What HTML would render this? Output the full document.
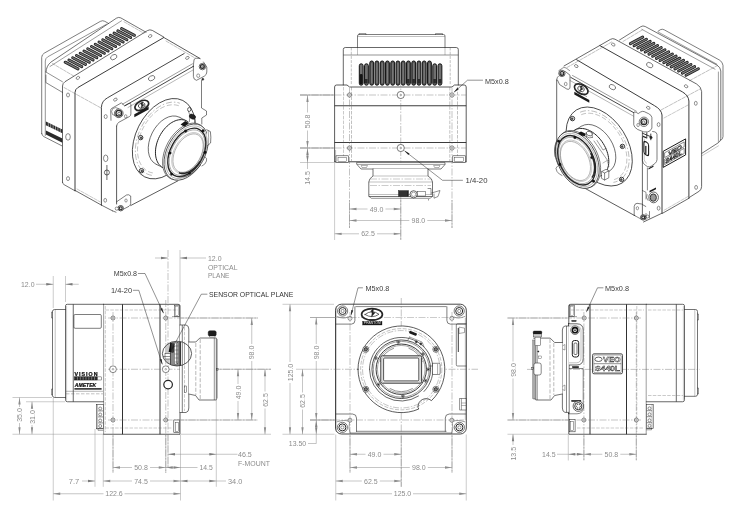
<!DOCTYPE html>
<html><head><meta charset="utf-8"><title>Camera dimensional drawing</title>
<style>html,body{margin:0;padding:0;background:#fff}svg{display:block;filter:grayscale(1)}
text{font-family:"Liberation Sans",sans-serif}</style></head>
<body><svg width="740" height="511" viewBox="0 0 740 511">
<rect width="740" height="511" fill="#fff"/>
<g id="topview">
<path d="M357.5,47.5 V36 Q357.5,34.5 359,34.5 H443.5 Q445,34.5 445,36 V47.5" fill="none" stroke="#262626" stroke-width="0.6" stroke-linejoin="round" stroke-linecap="round"/>
<line x1="357.5" y1="36.5" x2="445" y2="36.5" stroke="#4a4a4a" stroke-width="0.35"/>
<path d="M359,34.5 V33.6 H366 V34.5 M435.5,34.5 V33.6 H442.5 V34.5" fill="none" stroke="#262626" stroke-width="0.5" stroke-linejoin="round" stroke-linecap="round"/>
<path d="M343.3,85 V49.5 Q343.3,47.5 345.3,47.5 H456.3 Q458.3,47.5 458.3,49.5 V85" fill="none" stroke="#262626" stroke-width="0.7" stroke-linejoin="round" stroke-linecap="round"/>
<line x1="343.3" y1="55" x2="458.3" y2="55" stroke="#262626" stroke-width="0.5"/>
<line x1="351.3" y1="47.5" x2="351.3" y2="85" stroke="#4a4a4a" stroke-width="0.35" stroke-dasharray="3 1.2"/>
<line x1="450.2" y1="47.5" x2="450.2" y2="85" stroke="#4a4a4a" stroke-width="0.35" stroke-dasharray="3 1.2"/>
<line x1="357.5" y1="47.5" x2="357.5" y2="55" stroke="#4a4a4a" stroke-width="0.35"/>
<line x1="445" y1="47.5" x2="445" y2="55" stroke="#4a4a4a" stroke-width="0.35"/>
<rect x="359.30" y="63.8" width="3.8" height="21.4" rx="1.9" fill="#707070" stroke="#101010" stroke-width="1.0"/>
<rect x="364.55" y="63.8" width="3.8" height="21.4" rx="1.9" fill="#707070" stroke="#101010" stroke-width="1.0"/>
<rect x="369.80" y="61.0" width="3.8" height="24.2" rx="1.9" fill="#585858" stroke="#101010" stroke-width="1.0"/>
<rect x="371.10" y="63.0" width="1.2" height="20.2" rx="0.6" fill="#7c7c7c"/>
<rect x="375.05" y="61.0" width="3.8" height="24.2" rx="1.9" fill="#585858" stroke="#101010" stroke-width="1.0"/>
<rect x="376.35" y="63.0" width="1.2" height="20.2" rx="0.6" fill="#7c7c7c"/>
<rect x="380.30" y="61.0" width="3.8" height="24.2" rx="1.9" fill="#585858" stroke="#101010" stroke-width="1.0"/>
<rect x="381.60" y="63.0" width="1.2" height="20.2" rx="0.6" fill="#7c7c7c"/>
<rect x="385.55" y="61.0" width="3.8" height="24.2" rx="1.9" fill="#585858" stroke="#101010" stroke-width="1.0"/>
<rect x="386.85" y="63.0" width="1.2" height="20.2" rx="0.6" fill="#7c7c7c"/>
<rect x="390.80" y="61.0" width="3.8" height="24.2" rx="1.9" fill="#585858" stroke="#101010" stroke-width="1.0"/>
<rect x="392.10" y="63.0" width="1.2" height="20.2" rx="0.6" fill="#7c7c7c"/>
<rect x="396.05" y="61.0" width="3.8" height="24.2" rx="1.9" fill="#585858" stroke="#101010" stroke-width="1.0"/>
<rect x="397.35" y="63.0" width="1.2" height="20.2" rx="0.6" fill="#7c7c7c"/>
<rect x="401.30" y="61.0" width="3.8" height="24.2" rx="1.9" fill="#585858" stroke="#101010" stroke-width="1.0"/>
<rect x="402.60" y="63.0" width="1.2" height="20.2" rx="0.6" fill="#7c7c7c"/>
<rect x="406.55" y="61.0" width="3.8" height="24.2" rx="1.9" fill="#585858" stroke="#101010" stroke-width="1.0"/>
<rect x="407.85" y="63.0" width="1.2" height="20.2" rx="0.6" fill="#7c7c7c"/>
<rect x="411.80" y="61.0" width="3.8" height="24.2" rx="1.9" fill="#585858" stroke="#101010" stroke-width="1.0"/>
<rect x="413.10" y="63.0" width="1.2" height="20.2" rx="0.6" fill="#7c7c7c"/>
<rect x="417.05" y="61.0" width="3.8" height="24.2" rx="1.9" fill="#585858" stroke="#101010" stroke-width="1.0"/>
<rect x="418.35" y="63.0" width="1.2" height="20.2" rx="0.6" fill="#7c7c7c"/>
<rect x="422.30" y="61.0" width="3.8" height="24.2" rx="1.9" fill="#585858" stroke="#101010" stroke-width="1.0"/>
<rect x="423.60" y="63.0" width="1.2" height="20.2" rx="0.6" fill="#7c7c7c"/>
<rect x="427.55" y="61.0" width="3.8" height="24.2" rx="1.9" fill="#585858" stroke="#101010" stroke-width="1.0"/>
<rect x="428.85" y="63.0" width="1.2" height="20.2" rx="0.6" fill="#7c7c7c"/>
<rect x="432.80" y="63.8" width="3.8" height="21.4" rx="1.9" fill="#707070" stroke="#101010" stroke-width="1.0"/>
<rect x="438.05" y="63.8" width="3.8" height="21.4" rx="1.9" fill="#707070" stroke="#101010" stroke-width="1.0"/>
<rect x="359.7" y="74" width="3" height="10.5" rx="1.4" fill="#151515"/>
<rect x="365" y="79" width="2.6" height="4.5" fill="#2a2a2a"/>
<rect x="407" y="79" width="2.6" height="4.5" fill="#2a2a2a"/>
<rect x="412.3" y="79" width="2.6" height="4.5" fill="#2a2a2a"/>
<rect x="417.5" y="79" width="2.6" height="4.5" fill="#2a2a2a"/>
<rect x="433.3" y="79" width="2.6" height="4.5" fill="#2a2a2a"/>
<rect x="438.6" y="79" width="2.6" height="4.5" fill="#2a2a2a"/>
<path d="M334.6,161.8 V87 Q334.6,85 336.6,85 H347 L349.5,87 H452 L454.5,85 H464.2 Q466.2,85 466.2,87 V161.8" fill="none" stroke="#262626" stroke-width="0.75" stroke-linejoin="round" stroke-linecap="round"/>
<line x1="334.6" y1="105.75" x2="466.2" y2="105.75" stroke="#262626" stroke-width="0.9"/>
<line x1="334.6" y1="142.5" x2="466.2" y2="142.5" stroke="#262626" stroke-width="0.9"/>
<line x1="334.6" y1="161.8" x2="466.2" y2="161.8" stroke="#262626" stroke-width="0.9"/>
<line x1="351.5" y1="87" x2="351.5" y2="161" stroke="#4a4a4a" stroke-width="0.35" stroke-dasharray="3.5 1.3"/>
<line x1="449.8" y1="87" x2="449.8" y2="161" stroke="#4a4a4a" stroke-width="0.35" stroke-dasharray="3.5 1.3"/>
<line x1="457.5" y1="87" x2="457.5" y2="161" stroke="#4a4a4a" stroke-width="0.35" stroke-dasharray="3.5 1.3"/>
<line x1="343.5" y1="87" x2="343.5" y2="161" stroke="#4a4a4a" stroke-width="0.3" stroke-dasharray="3.5 1.3"/>
<line x1="300" y1="95" x2="466" y2="95" stroke="#6a6a6a" stroke-width="0.4" stroke-dasharray="7 1.5 1.5 1.5"/>
<line x1="300" y1="148" x2="466" y2="148" stroke="#6a6a6a" stroke-width="0.4" stroke-dasharray="7 1.5 1.5 1.5"/>
<line x1="349.5" y1="88" x2="349.5" y2="228" stroke="#6a6a6a" stroke-width="0.4" stroke-dasharray="7 1.5 1.5 1.5"/>
<line x1="452" y1="88" x2="452" y2="228" stroke="#6a6a6a" stroke-width="0.4" stroke-dasharray="7 1.5 1.5 1.5"/>
<line x1="400.75" y1="80" x2="400.75" y2="240" stroke="#6a6a6a" stroke-width="0.4" stroke-dasharray="7 1.5 1.5 1.5"/>
<circle cx="349.5" cy="95" r="2.1" fill="#fff" stroke="#262626" stroke-width="0.5"/>
<circle cx="349.5" cy="95" r="0.9" fill="none" stroke="#262626" stroke-width="0.35"/>
<circle cx="452" cy="95" r="2.1" fill="#fff" stroke="#262626" stroke-width="0.5"/>
<circle cx="452" cy="95" r="0.9" fill="none" stroke="#262626" stroke-width="0.35"/>
<circle cx="400.75" cy="95" r="3.6" fill="#fff" stroke="#262626" stroke-width="0.6"/>
<circle cx="400.75" cy="95" r="0.8" fill="none" stroke="#262626" stroke-width="0.4"/>
<circle cx="349.5" cy="148" r="2.1" fill="#fff" stroke="#262626" stroke-width="0.5"/>
<circle cx="349.5" cy="148" r="0.9" fill="none" stroke="#262626" stroke-width="0.35"/>
<circle cx="452" cy="148" r="2.1" fill="#fff" stroke="#262626" stroke-width="0.5"/>
<circle cx="452" cy="148" r="0.9" fill="none" stroke="#262626" stroke-width="0.35"/>
<circle cx="400.75" cy="148" r="3.6" fill="#fff" stroke="#262626" stroke-width="0.6"/>
<circle cx="400.75" cy="148" r="0.8" fill="none" stroke="#262626" stroke-width="0.4"/>
<rect x="336" y="155.8" width="12.6" height="6.6" rx="0" fill="#fff" stroke="#262626" stroke-width="0.55"/>
<rect x="338" y="157.3" width="8.6" height="4.2" rx="0" fill="none" stroke="#262626" stroke-width="0.4"/>
<rect x="452.8" y="155.8" width="12.6" height="6.6" rx="0" fill="#fff" stroke="#262626" stroke-width="0.55"/>
<rect x="454.8" y="157.3" width="8.6" height="4.2" rx="0" fill="none" stroke="#262626" stroke-width="0.4"/>
<line x1="335.6" y1="150" x2="335.6" y2="161" stroke="#4a4a4a" stroke-width="0.35"/>
<path d="M357,162.6 H445 V164.5 L441,169 H361 L357,164.5 Z" fill="#fff" stroke="#262626" stroke-width="0.6" stroke-linejoin="round" stroke-linecap="round"/>
<line x1="357" y1="164.5" x2="445" y2="164.5" stroke="#262626" stroke-width="0.4"/>
<path d="M361.5,165.5 h6 l-1,2 h-4 z M434,165.5 h6 l-1,2 h-4 z" fill="none" stroke="#262626" stroke-width="0.35" stroke-linejoin="round" stroke-linecap="round"/>
<path d="M373,169 V176 Q369,178.5 368.8,182 V196.5 H432.5 V182 Q432.3,178.5 428,176 V169" fill="#fff" stroke="#262626" stroke-width="0.65" stroke-linejoin="round" stroke-linecap="round"/>
<line x1="369" y1="196.5" x2="371.5" y2="198.3" stroke="#262626" stroke-width="0.5"/>
<line x1="371.5" y1="198.3" x2="430" y2="198.3" stroke="#262626" stroke-width="0.5"/>
<line x1="430" y1="198.3" x2="432.5" y2="196.5" stroke="#262626" stroke-width="0.5"/>
<line x1="373" y1="176" x2="428" y2="176" stroke="#4a4a4a" stroke-width="0.35"/>
<line x1="368.8" y1="182" x2="432.5" y2="182" stroke="#4a4a4a" stroke-width="0.35"/>
<line x1="370" y1="179" x2="431" y2="179" stroke="#6a6a6a" stroke-width="0.35" stroke-dasharray="7 1.5 1.5 1.5"/>
<line x1="370" y1="185.5" x2="431" y2="185.5" stroke="#6a6a6a" stroke-width="0.35" stroke-dasharray="7 1.5 1.5 1.5"/>
<line x1="369" y1="194.5" x2="432.5" y2="194.5" stroke="#4a4a4a" stroke-width="0.35"/>
<rect x="398.5" y="190.6" width="10" height="5.8" rx="0" fill="#222" stroke="#111" stroke-width="0.4"/>
<line x1="400" y1="190.6" x2="400" y2="196.4" stroke="#777" stroke-width="0.35"/>
<line x1="402" y1="190.6" x2="402" y2="196.4" stroke="#777" stroke-width="0.35"/>
<line x1="404" y1="190.6" x2="404" y2="196.4" stroke="#777" stroke-width="0.35"/>
<line x1="406" y1="190.6" x2="406" y2="196.4" stroke="#777" stroke-width="0.35"/>
<circle cx="413.6" cy="194.3" r="3.6" fill="#fff" stroke="#262626" stroke-width="0.7"/>
<circle cx="413.6" cy="194.3" r="2.2" fill="none" stroke="#262626" stroke-width="0.4"/>
<rect x="417.5" y="191.5" width="8" height="4.5" rx="0" fill="#fff" stroke="#262626" stroke-width="0.45"/>
<path d="M428,188.5 h3 v6 M431.5,193 L440,190.5 L438,196.5 L434,198.2 V194" fill="none" stroke="#262626" stroke-width="0.5" stroke-linejoin="round" stroke-linecap="round"/>
<line x1="428.5" y1="199" x2="428.5" y2="200.5" stroke="#262626" stroke-width="0.5"/>
<line x1="300" y1="95" x2="334" y2="95" stroke="#8c8c8c" stroke-width="0.45"/>
<line x1="300" y1="148" x2="334" y2="148" stroke="#8c8c8c" stroke-width="0.45"/>
<line x1="300" y1="162.5" x2="336" y2="162.5" stroke="#8c8c8c" stroke-width="0.45"/>
<line x1="307.5" y1="95" x2="307.5" y2="112.5" stroke="#8c8c8c" stroke-width="0.5"/>
<line x1="307.5" y1="130.5" x2="307.5" y2="148" stroke="#8c8c8c" stroke-width="0.5"/>
<polygon points="307.5,95 306.35,102 308.65,102" fill="#8c8c8c"/>
<polygon points="307.5,148 306.35,141 308.65,141" fill="#8c8c8c"/>
<text transform="translate(307.5 121.5) rotate(-90) scale(0.9 1)" fill="#8c8c8c" font-size="7.8" text-anchor="middle" dominant-baseline="central">50.8</text>
<polygon points="307.5,148 306.35,155 308.65,155" fill="#7a7a7a"/>
<polygon points="307.5,162.5 306.35,155.5 308.65,155.5" fill="#7a7a7a"/>
<line x1="307.5" y1="148" x2="307.5" y2="169" stroke="#8c8c8c" stroke-width="0.5"/>
<text transform="translate(307.5 178) rotate(-90) scale(0.9 1)" fill="#8c8c8c" font-size="7.8" text-anchor="middle" dominant-baseline="central">14.5</text>
<line x1="349.5" y1="209" x2="367.5" y2="209" stroke="#8c8c8c" stroke-width="0.5"/>
<line x1="385.5" y1="209" x2="400.75" y2="209" stroke="#8c8c8c" stroke-width="0.5"/>
<polygon points="349.5,209 356.5,207.85 356.5,210.15" fill="#8c8c8c"/>
<polygon points="400.75,209 393.75,207.85 393.75,210.15" fill="#8c8c8c"/>
<text transform="translate(376.5 209) scale(0.9 1)" fill="#8c8c8c" font-size="7.8" text-anchor="middle" dominant-baseline="central">49.0</text>
<line x1="349.5" y1="220.5" x2="409.3" y2="220.5" stroke="#8c8c8c" stroke-width="0.5"/>
<line x1="427.3" y1="220.5" x2="452" y2="220.5" stroke="#8c8c8c" stroke-width="0.5"/>
<polygon points="349.5,220.5 356.5,219.35 356.5,221.65" fill="#8c8c8c"/>
<polygon points="452,220.5 445,219.35 445,221.65" fill="#8c8c8c"/>
<text transform="translate(418.3 220.5) scale(0.9 1)" fill="#8c8c8c" font-size="7.8" text-anchor="middle" dominant-baseline="central">98.0</text>
<line x1="334.6" y1="233.8" x2="359" y2="233.8" stroke="#8c8c8c" stroke-width="0.5"/>
<line x1="377" y1="233.8" x2="400.75" y2="233.8" stroke="#8c8c8c" stroke-width="0.5"/>
<polygon points="334.6,233.8 341.6,232.65 341.6,234.95000000000002" fill="#8c8c8c"/>
<polygon points="400.75,233.8 393.75,232.65 393.75,234.95000000000002" fill="#8c8c8c"/>
<text transform="translate(368 233.8) scale(0.9 1)" fill="#8c8c8c" font-size="7.8" text-anchor="middle" dominant-baseline="central">62.5</text>
<line x1="334.6" y1="163" x2="334.6" y2="240" stroke="#8c8c8c" stroke-width="0.45"/>
<text transform="translate(485 81.8)" fill="#3c3c3c" font-size="7.8" text-anchor="start" dominant-baseline="central" textLength="23.8" lengthAdjust="spacingAndGlyphs">M5x0.8</text>
<path d="M482.6,80.2 H467.5 L454.5,91.8" fill="none" stroke="#262626" stroke-width="0.5" stroke-linejoin="round" stroke-linecap="round"/>
<polygon points="453.60,92.60 457.41,87.86 458.74,89.35" fill="#262626"/>
<text transform="translate(465.5 180.8)" fill="#3c3c3c" font-size="7.8" text-anchor="start" dominant-baseline="central" textLength="22" lengthAdjust="spacingAndGlyphs">1/4-20</text>
<path d="M462.5,180.3 H442.5 L405,151.2" fill="none" stroke="#262626" stroke-width="0.5" stroke-linejoin="round" stroke-linecap="round"/>
<polygon points="404.20,150.60 409.55,153.49 408.33,155.07" fill="#262626"/>
</g>
<g id="sideview">
<path d="M65.5,309.5 H54.5 Q52.5,309.5 52.5,311.5 V395.5 Q52.5,397.5 54.5,397.5 H65.5" fill="none" stroke="#262626" stroke-width="0.65" stroke-linejoin="round" stroke-linecap="round"/>
<line x1="55.2" y1="309.5" x2="55.2" y2="397.5" stroke="#4a4a4a" stroke-width="0.35"/>
<path d="M52.5,312 h-1 v6 h1 M52.5,389 h-1 v6 h1" fill="none" stroke="#262626" stroke-width="0.45" stroke-linejoin="round" stroke-linecap="round"/>
<path d="M103.5,304.3 H67.5 Q65.5,304.3 65.5,305.75 V399.75 Q65.5,401.75 67.5,401.75 H103.5" fill="none" stroke="#262626" stroke-width="0.7" stroke-linejoin="round" stroke-linecap="round"/>
<line x1="73.25" y1="304.3" x2="73.25" y2="401.75" stroke="#262626" stroke-width="0.7"/>
<line x1="66.6" y1="306" x2="66.6" y2="400" stroke="#4a4a4a" stroke-width="0.3"/>
<rect x="73.9" y="314.5" width="27.4" height="13.8" rx="1.2" fill="none" stroke="#262626" stroke-width="0.6"/>
<text x="74.4" y="374" fill="#111" stroke="#111" stroke-width="0.25" font-size="5.3" font-weight="bold" dominant-baseline="central" textLength="23.2" lengthAdjust="spacing">VISION</text>
<rect x="74.6" y="376.9" width="26.8" height="3.1" rx="0" fill="#fff" stroke="#111" stroke-width="0.4"/>
<rect x="74.6" y="376.9" width="22.8" height="3.1" rx="0" fill="#2a2a2a" stroke="#111" stroke-width="0.3"/>
<line x1="77.44999999999999" y1="377.1" x2="77.44999999999999" y2="379.8" stroke="#ddd" stroke-width="0.45"/>
<line x1="80.3" y1="377.1" x2="80.3" y2="379.8" stroke="#ddd" stroke-width="0.45"/>
<line x1="83.14999999999999" y1="377.1" x2="83.14999999999999" y2="379.8" stroke="#ddd" stroke-width="0.45"/>
<line x1="86.0" y1="377.1" x2="86.0" y2="379.8" stroke="#ddd" stroke-width="0.45"/>
<line x1="88.85" y1="377.1" x2="88.85" y2="379.8" stroke="#ddd" stroke-width="0.45"/>
<line x1="91.69999999999999" y1="377.1" x2="91.69999999999999" y2="379.8" stroke="#ddd" stroke-width="0.45"/>
<line x1="94.55" y1="377.1" x2="94.55" y2="379.8" stroke="#ddd" stroke-width="0.45"/>
<text x="74.8" y="385.6" fill="#111" stroke="#111" stroke-width="0.2" font-size="4.8" font-style="italic" font-weight="bold" dominant-baseline="central" textLength="21.5" lengthAdjust="spacingAndGlyphs">AMETEK</text>
<line x1="74.4" y1="388.9" x2="101.6" y2="388.9" stroke="#111" stroke-width="1.4"/>
<line x1="66" y1="391.3" x2="103" y2="391.3" stroke="#4a4a4a" stroke-width="0.4"/>
<line x1="66" y1="393.8" x2="103" y2="393.8" stroke="#4a4a4a" stroke-width="0.35" stroke-dasharray="3.5 1.5"/>
<path d="M103.5,434.25 H180 V305.75 Q180,304.3 178,304.3 H103.5" fill="none" stroke="#262626" stroke-width="0.75" stroke-linejoin="round" stroke-linecap="round"/>
<line x1="103.6" y1="304.3" x2="103.6" y2="434.25" stroke="#262626" stroke-width="0.45"/>
<line x1="122.5" y1="304.3" x2="122.5" y2="434.25" stroke="#262626" stroke-width="0.95"/>
<line x1="160" y1="304.3" x2="160" y2="434.25" stroke="#262626" stroke-width="0.95"/>
<line x1="105.3" y1="306" x2="105.3" y2="432" stroke="#4a4a4a" stroke-width="0.3" stroke-dasharray="3.5 1.3"/>
<line x1="105.5" y1="310" x2="178" y2="310" stroke="#4a4a4a" stroke-width="0.3" stroke-dasharray="3.5 1.3"/>
<line x1="105.5" y1="428" x2="172" y2="428" stroke="#4a4a4a" stroke-width="0.3" stroke-dasharray="3.5 1.3"/>
<rect x="96.3" y="404.5" width="7.2" height="24.3" rx="0" fill="#fff" stroke="#262626" stroke-width="0.55"/>
<circle cx="100.2" cy="408.5" r="1.5" fill="none" stroke="#262626" stroke-width="0.5"/>
<line x1="98" y1="410.9" x2="103" y2="410.9" stroke="#262626" stroke-width="0.5"/>
<circle cx="100.2" cy="414.5" r="1.5" fill="none" stroke="#262626" stroke-width="0.5"/>
<line x1="98" y1="416.9" x2="103" y2="416.9" stroke="#262626" stroke-width="0.5"/>
<circle cx="100.2" cy="420.5" r="1.5" fill="none" stroke="#262626" stroke-width="0.5"/>
<line x1="98" y1="422.9" x2="103" y2="422.9" stroke="#262626" stroke-width="0.5"/>
<circle cx="100.2" cy="426" r="1.5" fill="none" stroke="#262626" stroke-width="0.5"/>
<line x1="98" y1="428.4" x2="103" y2="428.4" stroke="#262626" stroke-width="0.5"/>
<line x1="97.5" y1="404.5" x2="97.5" y2="428.8" stroke="#4a4a4a" stroke-width="0.35"/>
<path d="M98,428.8 v1.5 h5" fill="none" stroke="#262626" stroke-width="0.45" stroke-linejoin="round" stroke-linecap="round"/>
<line x1="108" y1="369.25" x2="271" y2="369.25" stroke="#6a6a6a" stroke-width="0.4" stroke-dasharray="7 1.5 1.5 1.5"/>
<line x1="108" y1="318" x2="258" y2="318" stroke="#6a6a6a" stroke-width="0.4" stroke-dasharray="7 1.5 1.5 1.5"/>
<line x1="108" y1="420" x2="257.5" y2="420" stroke="#6a6a6a" stroke-width="0.4" stroke-dasharray="7 1.5 1.5 1.5"/>
<line x1="113" y1="312" x2="113" y2="473" stroke="#6a6a6a" stroke-width="0.4" stroke-dasharray="7 1.5 1.5 1.5"/>
<line x1="165.75" y1="300" x2="165.75" y2="473" stroke="#6a6a6a" stroke-width="0.4" stroke-dasharray="7 1.5 1.5 1.5"/>
<line x1="168" y1="250" x2="168" y2="468" stroke="#6a6a6a" stroke-width="0.4" stroke-dasharray="7 1.5 1.5 1.5"/>
<line x1="181" y1="318" x2="258" y2="318" stroke="#8c8c8c" stroke-width="0.5"/>
<line x1="181" y1="420" x2="257.5" y2="420" stroke="#8c8c8c" stroke-width="0.5"/>
<line x1="218.5" y1="369.25" x2="271" y2="369.25" stroke="#8c8c8c" stroke-width="0.5"/>
<circle cx="113" cy="318" r="2" fill="#fff" stroke="#262626" stroke-width="0.55"/>
<circle cx="113" cy="318" r="0.8" fill="none" stroke="#262626" stroke-width="0.35"/>
<circle cx="165.75" cy="318" r="2" fill="#fff" stroke="#262626" stroke-width="0.55"/>
<circle cx="165.75" cy="318" r="0.8" fill="none" stroke="#262626" stroke-width="0.35"/>
<circle cx="113" cy="420" r="2" fill="#fff" stroke="#262626" stroke-width="0.55"/>
<circle cx="113" cy="420" r="0.8" fill="none" stroke="#262626" stroke-width="0.35"/>
<circle cx="165.75" cy="420" r="2" fill="#fff" stroke="#262626" stroke-width="0.55"/>
<circle cx="165.75" cy="420" r="0.8" fill="none" stroke="#262626" stroke-width="0.35"/>
<circle cx="113" cy="369.25" r="3.4" fill="#fff" stroke="#262626" stroke-width="0.55"/>
<circle cx="113" cy="369.25" r="0.8" fill="none" stroke="#262626" stroke-width="0.35"/>
<circle cx="165.75" cy="369.25" r="3.4" fill="#fff" stroke="#262626" stroke-width="0.55"/>
<circle cx="165.75" cy="369.25" r="0.8" fill="none" stroke="#262626" stroke-width="0.35"/>
<circle cx="168.1" cy="384.6" r="4.3" fill="#fff" stroke="#262626" stroke-width="1.2"/>
<rect x="174.6" y="305.2" width="4.8" height="11.5" rx="0" fill="none" stroke="#262626" stroke-width="0.5"/>
<rect x="175.6" y="306.2" width="2.8" height="9.5" rx="0" fill="none" stroke="#4a4a4a" stroke-width="0.35"/>
<rect x="173.8" y="420" width="5.7" height="12.5" rx="0" fill="#fff" stroke="#262626" stroke-width="0.55"/>
<rect x="175.2" y="422.5" width="3.3" height="9" rx="0" fill="none" stroke="#262626" stroke-width="0.4"/>
<line x1="172" y1="316.7" x2="180" y2="316.7" stroke="#262626" stroke-width="0.45"/>
<path d="M180,325 H186 Q188.8,325.5 188.8,329 V408 Q188.8,412 186,412.5 H180" fill="#fff" stroke="#262626" stroke-width="0.65" stroke-linejoin="round" stroke-linecap="round"/>
<line x1="182.3" y1="325" x2="182.3" y2="412.5" stroke="#262626" stroke-width="0.6"/>
<line x1="184.5" y1="327" x2="184.5" y2="411" stroke="#4a4a4a" stroke-width="0.3" stroke-dasharray="3.5 1.3"/>
<rect x="184.2" y="386" width="2.3" height="6.5" rx="0" fill="none" stroke="#262626" stroke-width="0.45"/>
<path d="M188.8,342 H195.8 L199.8,338 H216.3 V400 H199 L195.6,395.5 L188.8,394" fill="#fff" stroke="#262626" stroke-width="0.65" stroke-linejoin="round" stroke-linecap="round"/>
<line x1="214.3" y1="337.5" x2="214.3" y2="400" stroke="#262626" stroke-width="0.5"/>
<line x1="217.2" y1="339" x2="217.2" y2="398.5" stroke="#262626" stroke-width="0.45"/>
<line x1="195.8" y1="343" x2="195.8" y2="395" stroke="#999" stroke-width="0.7" stroke-dasharray="4 1.6"/>
<line x1="200.2" y1="339" x2="200.2" y2="399" stroke="#999" stroke-width="0.7" stroke-dasharray="4 1.6"/>
<rect x="216.3" y="368.2" width="1.8" height="2.2" rx="0" fill="none" stroke="#262626" stroke-width="0.4"/>
<rect x="209.8" y="335.5" width="5.2" height="2.2" rx="0" fill="#fff" stroke="#262626" stroke-width="0.4"/>
<rect x="208.2" y="330.7" width="8" height="5.3" rx="1.6" fill="#1d1d1d" stroke="#111" stroke-width="0.4"/>
<clipPath id="dc"><ellipse cx="177" cy="353.6" rx="14.6" ry="12.4"/></clipPath>
<ellipse cx="177" cy="353.6" rx="14.6" ry="12.4" fill="#fff" stroke="none" stroke-width="0"/>
<g clip-path="url(#dc)">
<rect x="170.3" y="342" width="10.5" height="24" rx="0" fill="#8a8a8a" stroke="none" stroke-width="0"/>
<line x1="166" y1="338" x2="166" y2="370" stroke="#262626" stroke-width="0.5"/>
<line x1="168" y1="338" x2="168" y2="370" stroke="#262626" stroke-width="0.5"/>
<line x1="170.3" y1="338" x2="170.3" y2="370" stroke="#262626" stroke-width="0.9"/>
<line x1="188.8" y1="338" x2="188.8" y2="370" stroke="#262626" stroke-width="0.6"/>
<line x1="184.5" y1="338" x2="184.5" y2="370" stroke="#262626" stroke-width="0.4"/>
<polygon points="168.6,352 170.3,343 171.6,343 171.6,352" fill="#111"/>
<rect x="171.8" y="343.5" width="2" height="9" rx="0" fill="#3a3a3a" stroke="#111" stroke-width="0.3"/>
<rect x="174.6" y="342" width="1.8" height="22" rx="0" fill="#fff" stroke="#333" stroke-width="0.3"/>
<rect x="177.2" y="342" width="1.2" height="22" rx="0" fill="#ddd" stroke="#333" stroke-width="0.3"/>
<rect x="165" y="353.5" width="5.2" height="5.5" rx="0" fill="#fff" stroke="#262626" stroke-width="0.5"/>
<line x1="163" y1="356.5" x2="170" y2="356.5" stroke="#262626" stroke-width="0.5"/>
<line x1="174.6" y1="346" x2="178.4" y2="346" stroke="#333" stroke-width="0.4"/>
<line x1="174.6" y1="350" x2="178.4" y2="350" stroke="#333" stroke-width="0.4"/>
<line x1="174.6" y1="354" x2="178.4" y2="354" stroke="#333" stroke-width="0.4"/>
<line x1="174.6" y1="358" x2="178.4" y2="358" stroke="#333" stroke-width="0.4"/>
<line x1="174.6" y1="362" x2="178.4" y2="362" stroke="#333" stroke-width="0.4"/>
<line x1="180.2" y1="338" x2="180.2" y2="370" stroke="#262626" stroke-width="1.3"/>
<line x1="182.3" y1="338" x2="182.3" y2="370" stroke="#262626" stroke-width="0.6"/>
</g>
<ellipse cx="177" cy="353.6" rx="14.6" ry="12.4" fill="none" stroke="#262626" stroke-width="0.75"/>
<line x1="53.25" y1="276" x2="53.25" y2="308" stroke="#8c8c8c" stroke-width="0.45"/>
<line x1="65.5" y1="276" x2="65.5" y2="302" stroke="#8c8c8c" stroke-width="0.45"/>
<line x1="36" y1="284.25" x2="53.25" y2="284.25" stroke="#8c8c8c" stroke-width="0.5"/>
<polygon points="53.25,284.25 46.25,283.1 46.25,285.4" fill="#7a7a7a"/>
<line x1="65.5" y1="284.25" x2="78.75" y2="284.25" stroke="#8c8c8c" stroke-width="0.5"/>
<polygon points="65.5,284.25 72.5,283.1 72.5,285.4" fill="#7a7a7a"/>
<text transform="translate(21 284.25)" fill="#8c8c8c" font-size="7.8" text-anchor="start" dominant-baseline="central" textLength="13.5" lengthAdjust="spacingAndGlyphs">12.0</text>
<line x1="180" y1="250" x2="180" y2="302" stroke="#8c8c8c" stroke-width="0.45"/>
<line x1="155" y1="258" x2="168" y2="258" stroke="#8c8c8c" stroke-width="0.5"/>
<polygon points="168,258 161,256.85 161,259.15" fill="#7a7a7a"/>
<line x1="180" y1="258" x2="206" y2="258" stroke="#8c8c8c" stroke-width="0.5"/>
<polygon points="180,258 187,256.85 187,259.15" fill="#7a7a7a"/>
<text transform="translate(208 258)" fill="#8c8c8c" font-size="7.8" text-anchor="start" dominant-baseline="central" textLength="13.5" lengthAdjust="spacingAndGlyphs">12.0</text>
<text transform="translate(208 267.5)" fill="#8c8c8c" font-size="7.8" text-anchor="start" dominant-baseline="central" textLength="29.5" lengthAdjust="spacingAndGlyphs">OPTICAL</text>
<text transform="translate(208 275.8)" fill="#8c8c8c" font-size="7.8" text-anchor="start" dominant-baseline="central" textLength="21.5" lengthAdjust="spacingAndGlyphs">PLANE</text>
<text transform="translate(113.75 273.75)" fill="#3c3c3c" font-size="7.8" text-anchor="start" dominant-baseline="central" textLength="23.3" lengthAdjust="spacingAndGlyphs">M5x0.8</text>
<path d="M138.3,273.5 H145 L163.2,312.5" fill="none" stroke="#262626" stroke-width="0.5" stroke-linejoin="round" stroke-linecap="round"/>
<polygon points="163.80,313.80 160.36,308.79 162.17,307.94" fill="#262626"/>
<text transform="translate(111 290.5)" fill="#3c3c3c" font-size="7.8" text-anchor="start" dominant-baseline="central" textLength="21" lengthAdjust="spacingAndGlyphs">1/4-20</text>
<path d="M133.3,290.3 H138.8 L162,363.5" fill="none" stroke="#262626" stroke-width="0.5" stroke-linejoin="round" stroke-linecap="round"/>
<polygon points="162.50,365.00 159.73,359.58 161.64,358.98" fill="#262626"/>
<text transform="translate(209 294.3)" fill="#333" font-size="7.8" text-anchor="start" dominant-baseline="central" textLength="84.3" lengthAdjust="spacingAndGlyphs">SENSOR OPTICAL PLANE</text>
<path d="M207,294.2 H201.3 L171.5,350" fill="none" stroke="#262626" stroke-width="0.5" stroke-linejoin="round" stroke-linecap="round"/>
<polygon points="171.00,351.00 172.94,345.24 174.71,346.18" fill="#262626"/>
<line x1="12.5" y1="397.5" x2="52" y2="397.5" stroke="#8c8c8c" stroke-width="0.45"/>
<line x1="12.5" y1="434.25" x2="103" y2="434.25" stroke="#8c8c8c" stroke-width="0.45"/>
<line x1="26" y1="401.75" x2="65" y2="401.75" stroke="#8c8c8c" stroke-width="0.45"/>
<line x1="19.5" y1="397.5" x2="19.5" y2="407" stroke="#8c8c8c" stroke-width="0.5"/>
<line x1="19.5" y1="423" x2="19.5" y2="434.25" stroke="#8c8c8c" stroke-width="0.5"/>
<polygon points="19.5,397.5 18.35,404.5 20.65,404.5" fill="#8c8c8c"/>
<polygon points="19.5,434.25 18.35,427.25 20.65,427.25" fill="#8c8c8c"/>
<text transform="translate(19.5 415) rotate(-90) scale(0.9 1)" fill="#8c8c8c" font-size="7.8" text-anchor="middle" dominant-baseline="central">35.0</text>
<line x1="32" y1="401.75" x2="32" y2="409" stroke="#8c8c8c" stroke-width="0.5"/>
<line x1="32" y1="425" x2="32" y2="434.25" stroke="#8c8c8c" stroke-width="0.5"/>
<polygon points="32,401.75 30.85,408.75 33.15,408.75" fill="#8c8c8c"/>
<polygon points="32,434.25 30.85,427.25 33.15,427.25" fill="#8c8c8c"/>
<text transform="translate(32 417) rotate(-90) scale(0.9 1)" fill="#8c8c8c" font-size="7.8" text-anchor="middle" dominant-baseline="central">31.0</text>
<line x1="216.3" y1="400" x2="216.3" y2="486.8" stroke="#8c8c8c" stroke-width="0.45"/>
<line x1="181" y1="434.25" x2="271" y2="434.25" stroke="#8c8c8c" stroke-width="0.45"/>
<line x1="238" y1="369.25" x2="238" y2="384.0" stroke="#8c8c8c" stroke-width="0.5"/>
<line x1="238" y1="401.0" x2="238" y2="420" stroke="#8c8c8c" stroke-width="0.5"/>
<polygon points="238,369.25 236.85,376.25 239.15,376.25" fill="#8c8c8c"/>
<polygon points="238,420 236.85,413 239.15,413" fill="#8c8c8c"/>
<text transform="translate(238 392.5) rotate(-90) scale(0.9 1)" fill="#8c8c8c" font-size="7.8" text-anchor="middle" dominant-baseline="central">49.0</text>
<line x1="251.75" y1="318" x2="251.75" y2="344.0" stroke="#8c8c8c" stroke-width="0.5"/>
<line x1="251.75" y1="361.0" x2="251.75" y2="420" stroke="#8c8c8c" stroke-width="0.5"/>
<polygon points="251.75,318 250.6,325 252.9,325" fill="#8c8c8c"/>
<polygon points="251.75,420 250.6,413 252.9,413" fill="#8c8c8c"/>
<text transform="translate(251.75 352.5) rotate(-90) scale(0.9 1)" fill="#8c8c8c" font-size="7.8" text-anchor="middle" dominant-baseline="central">98.0</text>
<line x1="265" y1="369.25" x2="265" y2="391.5" stroke="#8c8c8c" stroke-width="0.5"/>
<line x1="265" y1="408.5" x2="265" y2="434.25" stroke="#8c8c8c" stroke-width="0.5"/>
<polygon points="265,369.25 263.85,376.25 266.15,376.25" fill="#8c8c8c"/>
<polygon points="265,434.25 263.85,427.25 266.15,427.25" fill="#8c8c8c"/>
<text transform="translate(265 400) rotate(-90) scale(0.9 1)" fill="#8c8c8c" font-size="7.8" text-anchor="middle" dominant-baseline="central">62.5</text>
<line x1="53.25" y1="398" x2="53.25" y2="500.5" stroke="#8c8c8c" stroke-width="0.45"/>
<line x1="95" y1="429" x2="95" y2="486.8" stroke="#8c8c8c" stroke-width="0.45"/>
<line x1="103.25" y1="434.5" x2="103.25" y2="486.8" stroke="#8c8c8c" stroke-width="0.45"/>
<line x1="180.5" y1="434.5" x2="180.5" y2="500.5" stroke="#8c8c8c" stroke-width="0.45"/>
<line x1="168" y1="454.25" x2="237.5" y2="454.25" stroke="#8c8c8c" stroke-width="0.5"/>
<polygon points="168,454.25 175,453.1 175,455.4" fill="#7a7a7a"/>
<polygon points="216.3,454.25 209.3,453.1 209.3,455.4" fill="#7a7a7a"/>
<text transform="translate(238 454.25)" fill="#8c8c8c" font-size="7.8" text-anchor="start" dominant-baseline="central" textLength="13.8" lengthAdjust="spacingAndGlyphs">46.5</text>
<text transform="translate(238 463.3)" fill="#8c8c8c" font-size="7.8" text-anchor="start" dominant-baseline="central" textLength="32" lengthAdjust="spacingAndGlyphs">F-MOUNT</text>
<line x1="113" y1="467.5" x2="132" y2="467.5" stroke="#8c8c8c" stroke-width="0.5"/>
<line x1="150" y1="467.5" x2="165.75" y2="467.5" stroke="#8c8c8c" stroke-width="0.5"/>
<polygon points="113,467.5 120,466.35 120,468.65" fill="#8c8c8c"/>
<polygon points="165.75,467.5 158.75,466.35 158.75,468.65" fill="#8c8c8c"/>
<text transform="translate(141 467.5) scale(0.9 1)" fill="#8c8c8c" font-size="7.8" text-anchor="middle" dominant-baseline="central">50.8</text>
<polygon points="165.75,467.5 172.75,466.35 172.75,468.65" fill="#7a7a7a"/>
<polygon points="180.5,467.5 173.5,466.35 173.5,468.65" fill="#7a7a7a"/>
<line x1="165.75" y1="467.5" x2="197.5" y2="467.5" stroke="#8c8c8c" stroke-width="0.5"/>
<text transform="translate(199.5 467.5)" fill="#8c8c8c" font-size="7.8" text-anchor="start" dominant-baseline="central" textLength="13.2" lengthAdjust="spacingAndGlyphs">14.5</text>
<text transform="translate(68.75 481)" fill="#8c8c8c" font-size="7.8" text-anchor="start" dominant-baseline="central" textLength="10.5" lengthAdjust="spacingAndGlyphs">7.7</text>
<line x1="82" y1="481" x2="95" y2="481" stroke="#8c8c8c" stroke-width="0.5"/>
<polygon points="95,481 88,479.85 88,482.15" fill="#7a7a7a"/>
<line x1="103.25" y1="481" x2="132" y2="481" stroke="#8c8c8c" stroke-width="0.5"/>
<line x1="150" y1="481" x2="180.5" y2="481" stroke="#8c8c8c" stroke-width="0.5"/>
<polygon points="103.25,481 110.25,479.85 110.25,482.15" fill="#8c8c8c"/>
<polygon points="180.5,481 173.5,479.85 173.5,482.15" fill="#8c8c8c"/>
<text transform="translate(141 481) scale(0.9 1)" fill="#8c8c8c" font-size="7.8" text-anchor="middle" dominant-baseline="central">74.5</text>
<polygon points="180.5,481 187.5,479.85 187.5,482.15" fill="#7a7a7a"/>
<polygon points="216.3,481 209.3,479.85 209.3,482.15" fill="#7a7a7a"/>
<line x1="180.5" y1="481" x2="226" y2="481" stroke="#8c8c8c" stroke-width="0.5"/>
<text transform="translate(228 481)" fill="#8c8c8c" font-size="7.8" text-anchor="start" dominant-baseline="central" textLength="14.3" lengthAdjust="spacingAndGlyphs">34.0</text>
<line x1="53.25" y1="493.75" x2="103.5" y2="493.75" stroke="#8c8c8c" stroke-width="0.5"/>
<line x1="124.5" y1="493.75" x2="180.5" y2="493.75" stroke="#8c8c8c" stroke-width="0.5"/>
<polygon points="53.25,493.75 60.25,492.6 60.25,494.9" fill="#8c8c8c"/>
<polygon points="180.5,493.75 173.5,492.6 173.5,494.9" fill="#8c8c8c"/>
<text transform="translate(114 493.75) scale(0.9 1)" fill="#8c8c8c" font-size="7.8" text-anchor="middle" dominant-baseline="central">122.6</text>
</g>
<g id="frontview">
<rect x="335.5" y="304.2" width="130.8" height="129.8" rx="6" fill="none" stroke="#262626" stroke-width="0.85"/>
<line x1="336.3" y1="306" x2="336.3" y2="432" stroke="#4a4a4a" stroke-width="0.3"/>
<line x1="465.3" y1="318" x2="465.3" y2="420" stroke="#4a4a4a" stroke-width="0.3"/>
<line x1="355.5" y1="306.6" x2="446.5" y2="306.6" stroke="#262626" stroke-width="0.55"/>
<line x1="356" y1="431.3" x2="446.5" y2="431.3" stroke="#262626" stroke-width="0.55"/>
<line x1="350" y1="433" x2="452" y2="433" stroke="#262626" stroke-width="0.5"/>
<path d="M336.3,324.1 H351.5 Q354.9,324 354.9,320.5 V306.8" fill="none" stroke="#262626" stroke-width="0.6" stroke-linejoin="round" stroke-linecap="round"/>
<path d="M465.5,324.1 H450.3 Q446.9,324 446.9,320.5 V306.8" fill="none" stroke="#262626" stroke-width="0.6" stroke-linejoin="round" stroke-linecap="round"/>
<path d="M336.3,414 H352.5 Q356.5,414.2 356.5,418 V431.3" fill="none" stroke="#262626" stroke-width="0.6" stroke-linejoin="round" stroke-linecap="round"/>
<path d="M465.5,414 H449.3 Q445.3,414.2 445.3,418 V431.3" fill="none" stroke="#262626" stroke-width="0.6" stroke-linejoin="round" stroke-linecap="round"/>
<path d="M337,316.5 Q344,319.5 347.8,317 M349.5,422.5 Q348,428 350,433 M337,421.8 Q344,419.5 347.8,421" fill="none" stroke="#262626" stroke-width="0.45" stroke-linejoin="round" stroke-linecap="round"/>
<path d="M464.8,316.5 Q457.8,319.5 454,317 M452.3,422.5 Q453.8,428 451.8,433 M464.8,421.8 Q457.8,419.5 454,421" fill="none" stroke="#262626" stroke-width="0.45" stroke-linejoin="round" stroke-linecap="round"/>
<circle cx="342.6" cy="311" r="5.1" fill="#fff" stroke="#262626" stroke-width="0.6"/>
<circle cx="342.6" cy="311" r="3.5" fill="none" stroke="#262626" stroke-width="1.0"/>
<circle cx="342.6" cy="311" r="1.6" fill="none" stroke="#262626" stroke-width="0.5"/>
<circle cx="459.2" cy="311" r="5.1" fill="#fff" stroke="#262626" stroke-width="0.6"/>
<circle cx="459.2" cy="311" r="3.5" fill="none" stroke="#262626" stroke-width="1.0"/>
<circle cx="459.2" cy="311" r="1.6" fill="none" stroke="#262626" stroke-width="0.5"/>
<circle cx="342.4" cy="427.4" r="5.1" fill="#fff" stroke="#262626" stroke-width="0.6"/>
<circle cx="342.4" cy="427.4" r="3.5" fill="none" stroke="#262626" stroke-width="1.0"/>
<circle cx="342.4" cy="427.4" r="1.6" fill="none" stroke="#262626" stroke-width="0.5"/>
<circle cx="459.4" cy="427.4" r="5.1" fill="#fff" stroke="#262626" stroke-width="0.6"/>
<circle cx="459.4" cy="427.4" r="3.5" fill="none" stroke="#262626" stroke-width="1.0"/>
<circle cx="459.4" cy="427.4" r="1.6" fill="none" stroke="#262626" stroke-width="0.5"/>
<circle cx="350" cy="318.3" r="2.0" fill="#fff" stroke="#262626" stroke-width="0.5"/>
<circle cx="451.8" cy="318.3" r="2.0" fill="#fff" stroke="#262626" stroke-width="0.5"/>
<circle cx="350" cy="420.2" r="2.0" fill="#fff" stroke="#262626" stroke-width="0.5"/>
<circle cx="451.8" cy="420.2" r="2.0" fill="#fff" stroke="#262626" stroke-width="0.5"/>
<line x1="401.25" y1="298" x2="401.25" y2="486.8" stroke="#6a6a6a" stroke-width="0.4" stroke-dasharray="7 1.5 1.5 1.5"/>
<line x1="322" y1="369.25" x2="478" y2="369.25" stroke="#6a6a6a" stroke-width="0.4" stroke-dasharray="7 1.5 1.5 1.5"/>
<line x1="350" y1="312" x2="350" y2="473" stroke="#6a6a6a" stroke-width="0.4" stroke-dasharray="7 1.5 1.5 1.5"/>
<line x1="452" y1="312" x2="452" y2="473" stroke="#6a6a6a" stroke-width="0.4" stroke-dasharray="7 1.5 1.5 1.5"/>
<line x1="338" y1="317.5" x2="464" y2="317.5" stroke="#6a6a6a" stroke-width="0.35" stroke-dasharray="7 1.5 1.5 1.5"/>
<line x1="310" y1="420" x2="464" y2="420" stroke="#6a6a6a" stroke-width="0.4" stroke-dasharray="7 1.5 1.5 1.5"/>
<path d="M466,323.8 H457.5 Q456.3,323.8 456.3,325 V364.8 Q456.3,366 457.5,366 H466" fill="none" stroke="#262626" stroke-width="0.55" stroke-linejoin="round" stroke-linecap="round"/>
<line x1="458.3" y1="328" x2="458.3" y2="352" stroke="#262626" stroke-width="0.9"/>
<path d="M459,327.5 v6 l5.5,-1 v-4 z" fill="none" stroke="#262626" stroke-width="0.4" stroke-linejoin="round" stroke-linecap="round"/>
<rect x="459.8" y="398.5" width="6.2" height="11.5" rx="0" fill="#fff" stroke="#262626" stroke-width="0.5"/>
<line x1="461.5" y1="398.5" x2="461.5" y2="410" stroke="#262626" stroke-width="0.4"/>
<line x1="461.5" y1="403" x2="466" y2="403" stroke="#262626" stroke-width="0.35"/>
<line x1="461.5" y1="405.5" x2="466" y2="405.5" stroke="#262626" stroke-width="0.35"/>
<ellipse cx="372" cy="314.4" rx="10.4" ry="5.7" fill="#fff" stroke="#262626" stroke-width="1.7"/>
<path d="M365,314.5 Q372,309 379,314.3 Q372,319 365,314.5 Z" fill="none" stroke="#262626" stroke-width="0.7" stroke-linejoin="round" stroke-linecap="round"/>
<path d="M371,311 l2.5,-2.8 l-0.5,4 l2,0.5 l-3.5,4 l0.6,-3.5 z" fill="#222" stroke="#262626" stroke-width="0.5" stroke-linejoin="round" stroke-linecap="round"/>
<rect x="362.6" y="321.3" width="19.4" height="3.7" rx="0" fill="#1a1a1a" stroke="#111" stroke-width="0.3"/>
<text x="372.3" y="323.3" fill="#ddd" font-size="2.6" text-anchor="middle" dominant-baseline="central" textLength="17" lengthAdjust="spacingAndGlyphs">PHANTOM</text>
<path d="M369,320.8 L370.5,319.6 H373.8 L375.3,320.8" fill="#333" stroke="#262626" stroke-width="0.6" stroke-linejoin="round" stroke-linecap="round"/>
<path d="M358,369.25 A43.4,43.4 0 1 1 431.5,400.6 Q429,398.5 425.5,398.6 Q419.5,399.5 418.2,405 Q417.5,408 418.8,409 A43.4,43.4 0 0 1 358,369.25 Z" fill="#fff" stroke="#262626" stroke-width="0.75" stroke-linejoin="round" stroke-linecap="round"/>
<circle cx="401.25" cy="369.25" r="38.7" fill="none" stroke="#6a6a6a" stroke-width="0.4" stroke-dasharray="6 1.5 1.5 1.5"/>
<circle cx="401.25" cy="369.25" r="40.6" fill="none" stroke="#4a4a4a" stroke-width="0.35" stroke-dasharray="4 1.5"/>
<path d="M369.5,369.25 A31.8,31.8 0 1 1 424,391.5 M418.5,396 A31.8,31.8 0 0 1 369.5,369.25" fill="none" stroke="#262626" stroke-width="0.7" stroke-linejoin="round" stroke-linecap="round"/>
<circle cx="401.25" cy="369.25" r="29.3" fill="none" stroke="#262626" stroke-width="0.8"/>
<circle cx="401.25" cy="369.25" r="27.9" fill="none" stroke="#262626" stroke-width="0.45"/>
<circle cx="401.25" cy="369.25" r="25.2" fill="none" stroke="#262626" stroke-width="0.9"/>
<circle cx="401.25" cy="369.25" r="23.8" fill="none" stroke="#262626" stroke-width="0.4"/>
<path d="M380.3,361.6 A22.3,22.3 0 0 1 393.6,348.3" fill="none" stroke="#262626" stroke-width="0.5" stroke-linejoin="round" stroke-linecap="round"/>
<path d="M408.9,348.3 A22.3,22.3 0 0 1 422.2,361.6" fill="none" stroke="#262626" stroke-width="0.5" stroke-linejoin="round" stroke-linecap="round"/>
<path d="M412.4,388.6 A22.3,22.3 0 0 1 390.1,388.6" fill="none" stroke="#262626" stroke-width="0.5" stroke-linejoin="round" stroke-linecap="round"/>
<rect x="380.8" y="355.8" width="40.8" height="27.4" rx="1.5" fill="#fff" stroke="#262626" stroke-width="0.9"/>
<rect x="383.6" y="358" width="35.2" height="22.9" rx="1" fill="none" stroke="#262626" stroke-width="0.8"/>
<rect x="382.2" y="356.9" width="38" height="25.2" rx="1.2" fill="none" stroke="#4a4a4a" stroke-width="0.3"/>
<circle cx="365.8" cy="349.3" r="3" fill="#fff" stroke="#262626" stroke-width="0.6"/>
<circle cx="365.8" cy="349.3" r="1.7" fill="#777" stroke="#262626" stroke-width="0.9"/>
<circle cx="435.8" cy="349.3" r="3" fill="#fff" stroke="#262626" stroke-width="0.6"/>
<circle cx="435.8" cy="349.3" r="1.7" fill="#777" stroke="#262626" stroke-width="0.9"/>
<circle cx="365.8" cy="389.3" r="3" fill="#fff" stroke="#262626" stroke-width="0.6"/>
<circle cx="365.8" cy="389.3" r="1.7" fill="#777" stroke="#262626" stroke-width="0.9"/>
<circle cx="435.8" cy="389.3" r="3" fill="#fff" stroke="#262626" stroke-width="0.6"/>
<circle cx="435.8" cy="389.3" r="1.7" fill="#777" stroke="#262626" stroke-width="0.9"/>
<circle cx="398.3" cy="342" r="1.5" fill="#fff" stroke="#262626" stroke-width="0.5"/>
<circle cx="398.3" cy="342" r="0.8" fill="#222" stroke="#262626" stroke-width="0.3"/>
<circle cx="375.8" cy="358" r="1.5" fill="#fff" stroke="#262626" stroke-width="0.5"/>
<circle cx="375.8" cy="358" r="0.8" fill="#222" stroke="#262626" stroke-width="0.3"/>
<circle cx="422.9" cy="354.1" r="1.5" fill="#fff" stroke="#262626" stroke-width="0.5"/>
<circle cx="422.9" cy="354.1" r="0.8" fill="#222" stroke="#262626" stroke-width="0.3"/>
<circle cx="378.3" cy="384.6" r="1.5" fill="#fff" stroke="#262626" stroke-width="0.5"/>
<circle cx="378.3" cy="384.6" r="0.8" fill="#222" stroke="#262626" stroke-width="0.3"/>
<circle cx="425.7" cy="380.8" r="1.5" fill="#fff" stroke="#262626" stroke-width="0.5"/>
<circle cx="425.7" cy="380.8" r="0.8" fill="#222" stroke="#262626" stroke-width="0.3"/>
<circle cx="402.9" cy="396.2" r="1.5" fill="#fff" stroke="#262626" stroke-width="0.5"/>
<circle cx="402.9" cy="396.2" r="0.8" fill="#222" stroke="#262626" stroke-width="0.3"/>
<circle cx="428.2" cy="369.4" r="1.5" fill="#fff" stroke="#262626" stroke-width="0.5"/>
<circle cx="428.2" cy="369.4" r="0.8" fill="#222" stroke="#262626" stroke-width="0.3"/>
<path d="M429.5,366 h3 M432.8,363.3 h6 q1.3,0 1.3,1.3 v8.6 q0,1.3 -1.3,1.3 h-6 z" fill="#fff" stroke="#262626" stroke-width="0.55" stroke-linejoin="round" stroke-linecap="round"/>
<line x1="437.6" y1="364" x2="437.6" y2="374" stroke="#262626" stroke-width="0.4"/>
<rect x="409" y="332" width="8" height="2.6" rx="1" fill="#1a1a1a" transform="rotate(22 413 333.3)"/>
<path d="M409.5,337 l12.5,5 l2,4.5 M408,340 l1.5,-3" fill="none" stroke="#262626" stroke-width="0.45" stroke-linejoin="round" stroke-linecap="round"/>
<circle cx="416.3" cy="341.8" r="1.1" fill="#333" stroke="#262626" stroke-width="0.4"/>
<circle cx="420.8" cy="343.8" r="1.1" fill="#333" stroke="#262626" stroke-width="0.4"/>
<line x1="310" y1="420" x2="334" y2="420" stroke="#8c8c8c" stroke-width="0.45"/>
<line x1="282.5" y1="304.3" x2="334" y2="304.3" stroke="#8c8c8c" stroke-width="0.45"/>
<line x1="282.5" y1="434.25" x2="334.5" y2="434.25" stroke="#8c8c8c" stroke-width="0.45"/>
<line x1="310" y1="317.5" x2="349" y2="317.5" stroke="#8c8c8c" stroke-width="0.45"/>
<line x1="290" y1="304.3" x2="290" y2="362.0" stroke="#8c8c8c" stroke-width="0.5"/>
<line x1="290" y1="383.0" x2="290" y2="434.25" stroke="#8c8c8c" stroke-width="0.5"/>
<polygon points="290,304.3 288.85,311.3 291.15,311.3" fill="#8c8c8c"/>
<polygon points="290,434.25 288.85,427.25 291.15,427.25" fill="#8c8c8c"/>
<text transform="translate(290 372.5) rotate(-90) scale(0.9 1)" fill="#8c8c8c" font-size="7.8" text-anchor="middle" dominant-baseline="central">125.0</text>
<line x1="302.5" y1="369.25" x2="302.5" y2="392.5" stroke="#8c8c8c" stroke-width="0.5"/>
<line x1="302.5" y1="409.5" x2="302.5" y2="434.25" stroke="#8c8c8c" stroke-width="0.5"/>
<polygon points="302.5,369.25 301.35,376.25 303.65,376.25" fill="#8c8c8c"/>
<polygon points="302.5,434.25 301.35,427.25 303.65,427.25" fill="#8c8c8c"/>
<text transform="translate(302.5 401) rotate(-90) scale(0.9 1)" fill="#8c8c8c" font-size="7.8" text-anchor="middle" dominant-baseline="central">62.5</text>
<line x1="296" y1="369.25" x2="322" y2="369.25" stroke="#8c8c8c" stroke-width="0.45"/>
<line x1="316.25" y1="317.5" x2="316.25" y2="344.0" stroke="#8c8c8c" stroke-width="0.5"/>
<line x1="316.25" y1="361.0" x2="316.25" y2="420" stroke="#8c8c8c" stroke-width="0.5"/>
<polygon points="316.25,317.5 315.1,324.5 317.4,324.5" fill="#8c8c8c"/>
<polygon points="316.25,420 315.1,413 317.4,413" fill="#8c8c8c"/>
<text transform="translate(316.25 352.5) rotate(-90) scale(0.9 1)" fill="#8c8c8c" font-size="7.8" text-anchor="middle" dominant-baseline="central">98.0</text>
<polygon points="316.25,420 315.1,427 317.4,427" fill="#7a7a7a"/>
<polygon points="316.25,434.25 315.1,427.25 317.4,427.25" fill="#7a7a7a"/>
<line x1="316.25" y1="420" x2="316.25" y2="443.5" stroke="#8c8c8c" stroke-width="0.5"/>
<line x1="316.25" y1="443.5" x2="308" y2="443.5" stroke="#8c8c8c" stroke-width="0.5"/>
<text transform="translate(288.8 443.8)" fill="#8c8c8c" font-size="7.8" text-anchor="start" dominant-baseline="central" textLength="17.3" lengthAdjust="spacingAndGlyphs">13.50</text>
<text transform="translate(365.5 288)" fill="#3c3c3c" font-size="7.8" text-anchor="start" dominant-baseline="central" textLength="23.8" lengthAdjust="spacingAndGlyphs">M5x0.8</text>
<path d="M362.5,287.8 H358 L351.3,314" fill="none" stroke="#262626" stroke-width="0.5" stroke-linejoin="round" stroke-linecap="round"/>
<polygon points="350.80,316.00 351.32,309.94 353.25,310.43" fill="#262626"/>
<line x1="335.75" y1="434.5" x2="335.75" y2="500.5" stroke="#8c8c8c" stroke-width="0.45"/>
<line x1="466.25" y1="434.5" x2="466.25" y2="500.5" stroke="#8c8c8c" stroke-width="0.45"/>
<line x1="350" y1="454.25" x2="365.5" y2="454.25" stroke="#8c8c8c" stroke-width="0.5"/>
<line x1="383.5" y1="454.25" x2="401.25" y2="454.25" stroke="#8c8c8c" stroke-width="0.5"/>
<polygon points="350,454.25 357,453.1 357,455.4" fill="#8c8c8c"/>
<polygon points="401.25,454.25 394.25,453.1 394.25,455.4" fill="#8c8c8c"/>
<text transform="translate(374.5 454.25) scale(0.9 1)" fill="#8c8c8c" font-size="7.8" text-anchor="middle" dominant-baseline="central">49.0</text>
<line x1="350" y1="467.5" x2="409.8" y2="467.5" stroke="#8c8c8c" stroke-width="0.5"/>
<line x1="427.8" y1="467.5" x2="452" y2="467.5" stroke="#8c8c8c" stroke-width="0.5"/>
<polygon points="350,467.5 357,466.35 357,468.65" fill="#8c8c8c"/>
<polygon points="452,467.5 445,466.35 445,468.65" fill="#8c8c8c"/>
<text transform="translate(418.8 467.5) scale(0.9 1)" fill="#8c8c8c" font-size="7.8" text-anchor="middle" dominant-baseline="central">98.0</text>
<line x1="335.75" y1="481" x2="361.8" y2="481" stroke="#8c8c8c" stroke-width="0.5"/>
<line x1="379.8" y1="481" x2="401.25" y2="481" stroke="#8c8c8c" stroke-width="0.5"/>
<polygon points="335.75,481 342.75,479.85 342.75,482.15" fill="#8c8c8c"/>
<polygon points="401.25,481 394.25,479.85 394.25,482.15" fill="#8c8c8c"/>
<text transform="translate(370.8 481) scale(0.9 1)" fill="#8c8c8c" font-size="7.8" text-anchor="middle" dominant-baseline="central">62.5</text>
<line x1="335.75" y1="493.75" x2="392.0" y2="493.75" stroke="#8c8c8c" stroke-width="0.5"/>
<line x1="413.0" y1="493.75" x2="466.25" y2="493.75" stroke="#8c8c8c" stroke-width="0.5"/>
<polygon points="335.75,493.75 342.75,492.6 342.75,494.9" fill="#8c8c8c"/>
<polygon points="466.25,493.75 459.25,492.6 459.25,494.9" fill="#8c8c8c"/>
<text transform="translate(402.5 493.75) scale(0.9 1)" fill="#8c8c8c" font-size="7.8" text-anchor="middle" dominant-baseline="central">125.0</text>
</g>
<g id="rightview">
<path d="M684.5,309.5 H695.5 Q697.5,309.5 697.5,311.5 V394.3 Q697.5,396.3 695.5,396.3 H684.5" fill="none" stroke="#262626" stroke-width="0.65" stroke-linejoin="round" stroke-linecap="round"/>
<line x1="694.8" y1="309.5" x2="694.8" y2="396.3" stroke="#4a4a4a" stroke-width="0.35"/>
<path d="M697.5,314 h1 v6 h-1 M697.5,388 h1 v6 h-1" fill="none" stroke="#262626" stroke-width="0.45" stroke-linejoin="round" stroke-linecap="round"/>
<path d="M646.3,304.3 H682.5 Q684.5,304.3 684.5,305.75 V399.75 Q684.5,401.75 682.5,401.75 H646.3" fill="none" stroke="#262626" stroke-width="0.7" stroke-linejoin="round" stroke-linecap="round"/>
<line x1="676.3" y1="304.3" x2="676.3" y2="401.75" stroke="#262626" stroke-width="0.7"/>
<line x1="683.4" y1="306" x2="683.4" y2="400" stroke="#4a4a4a" stroke-width="0.3"/>
<line x1="648" y1="310" x2="683" y2="310" stroke="#4a4a4a" stroke-width="0.3" stroke-dasharray="3.5 1.3"/>
<line x1="648" y1="395.5" x2="683" y2="395.5" stroke="#4a4a4a" stroke-width="0.3" stroke-dasharray="3.5 1.3"/>
<path d="M646.3,434.25 H568.8 V305.75 Q568.8,304.3 570.8,304.3 H646.3" fill="none" stroke="#262626" stroke-width="0.75" stroke-linejoin="round" stroke-linecap="round"/>
<line x1="646.2" y1="304.3" x2="646.2" y2="434.25" stroke="#262626" stroke-width="0.45"/>
<line x1="590" y1="304.3" x2="590" y2="434.25" stroke="#262626" stroke-width="0.95"/>
<line x1="626.5" y1="304.3" x2="626.5" y2="434.25" stroke="#262626" stroke-width="0.95"/>
<line x1="636.8" y1="306" x2="636.8" y2="432" stroke="#4a4a4a" stroke-width="0.3" stroke-dasharray="3.5 1.3"/>
<line x1="571" y1="310" x2="644" y2="310" stroke="#4a4a4a" stroke-width="0.3" stroke-dasharray="3.5 1.3"/>
<line x1="577" y1="428" x2="644" y2="428" stroke="#4a4a4a" stroke-width="0.3" stroke-dasharray="3.5 1.3"/>
<rect x="646.3" y="404.3" width="6.9" height="24" rx="0" fill="#fff" stroke="#262626" stroke-width="0.55"/>
<circle cx="649.5" cy="408.3" r="1.5" fill="none" stroke="#262626" stroke-width="0.5"/>
<line x1="646.8" y1="410.7" x2="652" y2="410.7" stroke="#262626" stroke-width="0.5"/>
<circle cx="649.5" cy="414.3" r="1.5" fill="none" stroke="#262626" stroke-width="0.5"/>
<line x1="646.8" y1="416.7" x2="652" y2="416.7" stroke="#262626" stroke-width="0.5"/>
<circle cx="649.5" cy="420.3" r="1.5" fill="none" stroke="#262626" stroke-width="0.5"/>
<line x1="646.8" y1="422.7" x2="652" y2="422.7" stroke="#262626" stroke-width="0.5"/>
<circle cx="649.5" cy="425.8" r="1.5" fill="none" stroke="#262626" stroke-width="0.5"/>
<line x1="646.8" y1="428.2" x2="652" y2="428.2" stroke="#262626" stroke-width="0.5"/>
<line x1="652" y1="404.3" x2="652" y2="428.3" stroke="#4a4a4a" stroke-width="0.35"/>
<path d="M651.5,428.3 v1.5 h-5" fill="none" stroke="#262626" stroke-width="0.45" stroke-linejoin="round" stroke-linecap="round"/>
<line x1="527" y1="369.4" x2="700" y2="369.4" stroke="#6a6a6a" stroke-width="0.4" stroke-dasharray="7 1.5 1.5 1.5"/>
<line x1="507.5" y1="318" x2="642" y2="318" stroke="#6a6a6a" stroke-width="0.4" stroke-dasharray="7 1.5 1.5 1.5"/>
<line x1="507.5" y1="420" x2="642" y2="420" stroke="#6a6a6a" stroke-width="0.4" stroke-dasharray="7 1.5 1.5 1.5"/>
<line x1="636.3" y1="312" x2="636.3" y2="460.5" stroke="#6a6a6a" stroke-width="0.4" stroke-dasharray="7 1.5 1.5 1.5"/>
<line x1="583.9" y1="312" x2="583.9" y2="460.5" stroke="#6a6a6a" stroke-width="0.4" stroke-dasharray="7 1.5 1.5 1.5"/>
<circle cx="584.2" cy="318" r="2" fill="#fff" stroke="#262626" stroke-width="0.55"/>
<circle cx="584.2" cy="318" r="0.8" fill="none" stroke="#262626" stroke-width="0.35"/>
<circle cx="636.3" cy="318" r="2" fill="#fff" stroke="#262626" stroke-width="0.55"/>
<circle cx="636.3" cy="318" r="0.8" fill="none" stroke="#262626" stroke-width="0.35"/>
<circle cx="583.9" cy="420" r="2" fill="#fff" stroke="#262626" stroke-width="0.55"/>
<circle cx="583.9" cy="420" r="0.8" fill="none" stroke="#262626" stroke-width="0.35"/>
<circle cx="636.3" cy="420" r="2" fill="#fff" stroke="#262626" stroke-width="0.55"/>
<circle cx="636.3" cy="420" r="0.8" fill="none" stroke="#262626" stroke-width="0.35"/>
<rect x="569.6" y="305.2" width="4.8" height="11.5" rx="0" fill="none" stroke="#262626" stroke-width="0.5"/>
<rect x="570.6" y="306.2" width="2.8" height="9.5" rx="0" fill="none" stroke="#4a4a4a" stroke-width="0.35"/>
<line x1="568.8" y1="316.7" x2="577" y2="316.7" stroke="#262626" stroke-width="0.45"/>
<rect x="569.5" y="419.3" width="5.6" height="12.5" rx="0" fill="#fff" stroke="#262626" stroke-width="0.55"/>
<rect x="570.5" y="421.8" width="3.3" height="9" rx="0" fill="none" stroke="#262626" stroke-width="0.4"/>
<line x1="568.7" y1="323" x2="568.7" y2="414" stroke="#262626" stroke-width="1.1"/>
<path d="M568.8,323.8 H577 Q583.2,324 583.2,330 V358.5 Q583.2,364.8 577,365 H568.8" fill="#fff" stroke="#262626" stroke-width="0.7" stroke-linejoin="round" stroke-linecap="round"/>
<path d="M568.8,326 H576.5 Q581,326.3 581,330.5 V358 Q581,362.5 576.5,362.8 H568.8" fill="none" stroke="#4a4a4a" stroke-width="0.35" stroke-linejoin="round" stroke-linecap="round"/>
<circle cx="575" cy="330.2" r="4.3" fill="#fff" stroke="#262626" stroke-width="0.6"/>
<circle cx="575" cy="330.2" r="2.6" fill="#fff" stroke="#111" stroke-width="1.6"/>
<circle cx="575" cy="330.2" r="0.7" fill="#111" stroke="#111" stroke-width="0.3"/>
<rect x="572.3" y="340.5" width="6.4" height="16.5" rx="2.2" fill="#fff" stroke="#1b1b1b" stroke-width="1"/>
<rect x="574" y="343" width="3" height="11.5" rx="1" fill="#fff" stroke="#1b1b1b" stroke-width="0.6"/>
<rect x="572.3" y="366.3" width="6.5" height="1.6" rx="0" fill="#222" stroke="#111" stroke-width="0.2"/>
<rect x="571.8" y="320.3" width="4.5" height="1.3" rx="0" fill="#222" stroke="#111" stroke-width="0.2"/>
<rect x="571.5" y="400.2" width="9.5" height="1.5" rx="0" fill="#222" stroke="#111" stroke-width="0.2"/>
<path d="M568.8,368.5 H583.2 V408 Q583,413.5 577,413.8 H568.8" fill="none" stroke="#262626" stroke-width="0.55" stroke-linejoin="round" stroke-linecap="round"/>
<circle cx="578.3" cy="406.2" r="5.2" fill="#fff" stroke="#262626" stroke-width="0.7"/>
<circle cx="578.3" cy="406.2" r="3.6" fill="none" stroke="#262626" stroke-width="0.9"/>
<circle cx="580.3" cy="406.2" r="0.45" fill="#111" stroke="#111" stroke-width="0.2"/>
<circle cx="579.3" cy="407.9320508075689" r="0.45" fill="#111" stroke="#111" stroke-width="0.2"/>
<circle cx="577.3" cy="407.9320508075689" r="0.45" fill="#111" stroke="#111" stroke-width="0.2"/>
<circle cx="576.3" cy="406.2" r="0.45" fill="#111" stroke="#111" stroke-width="0.2"/>
<circle cx="577.3" cy="404.4679491924311" r="0.45" fill="#111" stroke="#111" stroke-width="0.2"/>
<circle cx="579.3" cy="404.4679491924311" r="0.45" fill="#111" stroke="#111" stroke-width="0.2"/>
<rect x="592.5" y="353.8" width="30" height="20" rx="1.5" fill="#fff" stroke="#262626" stroke-width="0.8"/>
<rect x="593.8" y="355" width="27.4" height="17.6" rx="1" fill="none" stroke="#262626" stroke-width="0.4"/>
<line x1="593.8" y1="363.7" x2="621.2" y2="363.7" stroke="#262626" stroke-width="0.5"/>
<ellipse cx="598.5" cy="359.3" rx="3.6" ry="2.2" fill="none" stroke="#262626" stroke-width="0.7"/>
<text x="603" y="359.6" fill="none" stroke="#1b1b1b" stroke-width="0.45" font-size="7.6" font-weight="bold" dominant-baseline="central" textLength="17.5" lengthAdjust="spacingAndGlyphs">VEO</text>
<text x="595" y="368.5" fill="none" stroke="#1b1b1b" stroke-width="0.45" font-size="7.4" font-weight="bold" dominant-baseline="central" textLength="25" lengthAdjust="spacingAndGlyphs">S440L</text>
<path d="M568.8,326 H565 Q562.4,326.5 562.4,330 V408 Q562.4,411.8 565,412.4 H568.8" fill="#fff" stroke="#262626" stroke-width="0.65" stroke-linejoin="round" stroke-linecap="round"/>
<line x1="566.5" y1="326" x2="566.5" y2="412.4" stroke="#262626" stroke-width="0.55"/>
<path d="M562.4,346 l2.5,-1.5 v5.5 l-2.5,-1 M562.4,386.5 l2.5,-1.5 v5.5 l-2.5,-1" fill="none" stroke="#262626" stroke-width="0.4" stroke-linejoin="round" stroke-linecap="round"/>
<path d="M562.4,342.5 H554.6 L550.2,338.1 H535.8 V400 H551 L554.6,395.5 L562.4,394" fill="#fff" stroke="#262626" stroke-width="0.65" stroke-linejoin="round" stroke-linecap="round"/>
<rect x="532.6" y="340" width="3" height="58.5" rx="0" fill="#aaa" stroke="#666" stroke-width="0.4"/>
<line x1="533.4" y1="338.5" x2="535.8" y2="338.5" stroke="#262626" stroke-width="0.5"/>
<line x1="533.4" y1="399" x2="535.8" y2="399" stroke="#262626" stroke-width="0.5"/>
<line x1="537.3" y1="337.6" x2="537.3" y2="400" stroke="#262626" stroke-width="0.45"/>
<line x1="550" y1="339" x2="550" y2="399" stroke="#999" stroke-width="0.7" stroke-dasharray="4 1.6"/>
<line x1="553.8" y1="343" x2="553.8" y2="395" stroke="#999" stroke-width="0.7" stroke-dasharray="4 1.6"/>
<rect x="535" y="337" width="5.6" height="8.6" rx="0" fill="#fff" stroke="#262626" stroke-width="0.45"/>
<rect x="533.3" y="333.2" width="8.4" height="3.8" rx="0" fill="#ccc" stroke="#262626" stroke-width="0.45"/>
<rect x="533.1" y="330.9" width="8.8" height="3" rx="1.2" fill="#1d1d1d" stroke="#111" stroke-width="0.3"/>
<rect x="533.9" y="363" width="7.3" height="12" rx="2" fill="#fff" stroke="#262626" stroke-width="0.55"/>
<rect x="531.8" y="367.3" width="1.6" height="2.4" rx="0" fill="none" stroke="#262626" stroke-width="0.4"/>
<circle cx="538.3" cy="351.5" r="0.7" fill="#222" stroke="#262626" stroke-width="0.3"/>
<rect x="538.5" y="356" width="3" height="2.2" rx="0" fill="none" stroke="#262626" stroke-width="0.35"/>
<line x1="507.5" y1="434.25" x2="568" y2="434.25" stroke="#8c8c8c" stroke-width="0.45"/>
<line x1="513" y1="318" x2="513" y2="361.5" stroke="#8c8c8c" stroke-width="0.5"/>
<line x1="513" y1="378.5" x2="513" y2="420" stroke="#8c8c8c" stroke-width="0.5"/>
<polygon points="513,318 511.85,325 514.15,325" fill="#8c8c8c"/>
<polygon points="513,420 511.85,413 514.15,413" fill="#8c8c8c"/>
<text transform="translate(513 370) rotate(-90) scale(0.9 1)" fill="#8c8c8c" font-size="7.8" text-anchor="middle" dominant-baseline="central">98.0</text>
<polygon points="513,434.25 511.85,441.25 514.15,441.25" fill="#7a7a7a"/>
<line x1="513" y1="434.25" x2="513" y2="445" stroke="#8c8c8c" stroke-width="0.5"/>
<text transform="translate(513 453.8) rotate(-90) scale(0.9 1)" fill="#8c8c8c" font-size="7.8" text-anchor="middle" dominant-baseline="central">13.5</text>
<line x1="568.3" y1="434.5" x2="568.3" y2="460.5" stroke="#8c8c8c" stroke-width="0.45"/>
<text transform="translate(542 454.25)" fill="#8c8c8c" font-size="7.8" text-anchor="start" dominant-baseline="central" textLength="13.6" lengthAdjust="spacingAndGlyphs">14.5</text>
<line x1="557" y1="454.25" x2="568.3" y2="454.25" stroke="#8c8c8c" stroke-width="0.5"/>
<polygon points="568.3,454.25 575.3,453.1 575.3,455.4" fill="#7a7a7a"/>
<polygon points="583.9,454.25 576.9,453.1 576.9,455.4" fill="#7a7a7a"/>
<line x1="583.9" y1="454.25" x2="602.3" y2="454.25" stroke="#8c8c8c" stroke-width="0.5"/>
<line x1="620.3" y1="454.25" x2="636.3" y2="454.25" stroke="#8c8c8c" stroke-width="0.5"/>
<polygon points="583.9,454.25 590.9,453.1 590.9,455.4" fill="#8c8c8c"/>
<polygon points="636.3,454.25 629.3,453.1 629.3,455.4" fill="#8c8c8c"/>
<text transform="translate(611.3 454.25) scale(0.9 1)" fill="#8c8c8c" font-size="7.8" text-anchor="middle" dominant-baseline="central">50.8</text>
<line x1="568.3" y1="454.25" x2="583.9" y2="454.25" stroke="#8c8c8c" stroke-width="0.5"/>
<text transform="translate(605 288)" fill="#3c3c3c" font-size="7.8" text-anchor="start" dominant-baseline="central" textLength="24" lengthAdjust="spacingAndGlyphs">M5x0.8</text>
<path d="M603,287.8 H597.5 L586.8,311" fill="none" stroke="#262626" stroke-width="0.5" stroke-linejoin="round" stroke-linecap="round"/>
<polygon points="586.20,312.60 587.78,306.73 589.60,307.55" fill="#262626"/>
</g>
<g id="iso1">
<path d="M41.7,133.5 V57.4 Q41.8,54.6 44.2,53.2 L100.3,21.4 Q102.6,20.1 104.8,21.3 L108.6,23.5" fill="none" stroke="#262626" stroke-width="0.6" stroke-linejoin="round" stroke-linecap="round"/>
<path d="M45.3,135.5 V61 Q45.4,58.3 47.6,56.9 L106.4,24.3" fill="none" stroke="#262626" stroke-width="0.5" stroke-linejoin="round" stroke-linecap="round"/>
<path d="M41.7,133.5 Q41.9,135.6 44,136.7 L61.8,145.8" fill="none" stroke="#262626" stroke-width="0.6" stroke-linejoin="round" stroke-linecap="round"/>
<path d="M46,72 Q46.3,66 50.8,62.2 L116.4,18.2 Q118.6,16.8 120.8,17.9 L146,32.2" fill="none" stroke="#262626" stroke-width="0.65" stroke-linejoin="round" stroke-linecap="round"/>
<path d="M50,66.5 L121.5,20.8" fill="none" stroke="#262626" stroke-width="0.45" stroke-linejoin="round" stroke-linecap="round"/>
<path d="M52.5,63.5 L74.5,76.5" fill="none" stroke="#4a4a4a" stroke-width="0.35" stroke-linejoin="round" stroke-linecap="round" stroke-dasharray="3 1.3"/>
<path d="M124,21.8 L144,33.3" fill="none" stroke="#4a4a4a" stroke-width="0.35" stroke-linejoin="round" stroke-linecap="round" stroke-dasharray="3 1.3"/>
<path d="M45.9,75 V82.6 L62.5,92.4" fill="none" stroke="#262626" stroke-width="0.55" stroke-linejoin="round" stroke-linecap="round"/>
<path d="M45.9,72 L62.5,81.8" fill="none" stroke="#262626" stroke-width="0.5" stroke-linejoin="round" stroke-linecap="round"/>
<polygon points="45.9,121.6 62.4,129.6 62.4,133.2 45.9,125.2" fill="#2a2a2a"/>
<polygon points="45.9,126.4 62.4,134.4 62.4,135.4 45.9,127.4" fill="#fff"/>
<polygon points="45.9,130.5 62.4,138.5 62.4,142.8 45.9,134.6" fill="#2a2a2a"/>
<line x1="48.3" y1="122.46" x2="48.3" y2="126.75999999999999" stroke="#fff" stroke-width="0.5"/>
<line x1="50.699999999999996" y1="123.61999999999999" x2="50.699999999999996" y2="127.91999999999999" stroke="#fff" stroke-width="0.5"/>
<line x1="53.099999999999994" y1="124.78" x2="53.099999999999994" y2="129.07999999999998" stroke="#fff" stroke-width="0.5"/>
<line x1="55.5" y1="125.94" x2="55.5" y2="130.24" stroke="#fff" stroke-width="0.5"/>
<line x1="57.9" y1="127.1" x2="57.9" y2="131.39999999999998" stroke="#fff" stroke-width="0.5"/>
<line x1="60.3" y1="128.26" x2="60.3" y2="132.56" stroke="#fff" stroke-width="0.5"/>
<line x1="65.20" y1="62.20" x2="78.00" y2="68.90" stroke="#1e1e1e" stroke-width="3.0" stroke-linecap="round"/>
<line x1="65.20" y1="62.20" x2="78.00" y2="68.90" stroke="#7c7c7c" stroke-width="1.3" stroke-linecap="round"/>
<line x1="68.96" y1="59.96" x2="81.76" y2="66.66" stroke="#1e1e1e" stroke-width="3.0" stroke-linecap="round"/>
<line x1="68.96" y1="59.96" x2="81.76" y2="66.66" stroke="#7c7c7c" stroke-width="1.3" stroke-linecap="round"/>
<line x1="72.72" y1="57.72" x2="85.52" y2="64.42" stroke="#1e1e1e" stroke-width="3.0" stroke-linecap="round"/>
<line x1="72.72" y1="57.72" x2="85.52" y2="64.42" stroke="#7c7c7c" stroke-width="1.3" stroke-linecap="round"/>
<line x1="76.48" y1="55.48" x2="89.28" y2="62.18" stroke="#1e1e1e" stroke-width="3.0" stroke-linecap="round"/>
<line x1="76.48" y1="55.48" x2="89.28" y2="62.18" stroke="#7c7c7c" stroke-width="1.3" stroke-linecap="round"/>
<line x1="80.24" y1="53.24" x2="93.04" y2="59.94" stroke="#1e1e1e" stroke-width="3.0" stroke-linecap="round"/>
<line x1="80.24" y1="53.24" x2="93.04" y2="59.94" stroke="#7c7c7c" stroke-width="1.3" stroke-linecap="round"/>
<line x1="84.00" y1="51.00" x2="96.80" y2="57.70" stroke="#1e1e1e" stroke-width="3.0" stroke-linecap="round"/>
<line x1="84.00" y1="51.00" x2="96.80" y2="57.70" stroke="#7c7c7c" stroke-width="1.3" stroke-linecap="round"/>
<line x1="87.76" y1="48.76" x2="100.56" y2="55.46" stroke="#1e1e1e" stroke-width="3.0" stroke-linecap="round"/>
<line x1="87.76" y1="48.76" x2="100.56" y2="55.46" stroke="#7c7c7c" stroke-width="1.3" stroke-linecap="round"/>
<line x1="91.52" y1="46.52" x2="104.32" y2="53.22" stroke="#1e1e1e" stroke-width="3.0" stroke-linecap="round"/>
<line x1="91.52" y1="46.52" x2="104.32" y2="53.22" stroke="#7c7c7c" stroke-width="1.3" stroke-linecap="round"/>
<line x1="95.28" y1="44.28" x2="108.08" y2="50.98" stroke="#1e1e1e" stroke-width="3.0" stroke-linecap="round"/>
<line x1="95.28" y1="44.28" x2="108.08" y2="50.98" stroke="#7c7c7c" stroke-width="1.3" stroke-linecap="round"/>
<line x1="99.04" y1="42.04" x2="111.84" y2="48.74" stroke="#1e1e1e" stroke-width="3.0" stroke-linecap="round"/>
<line x1="99.04" y1="42.04" x2="111.84" y2="48.74" stroke="#7c7c7c" stroke-width="1.3" stroke-linecap="round"/>
<line x1="102.80" y1="39.80" x2="115.60" y2="46.50" stroke="#1e1e1e" stroke-width="3.0" stroke-linecap="round"/>
<line x1="102.80" y1="39.80" x2="115.60" y2="46.50" stroke="#7c7c7c" stroke-width="1.3" stroke-linecap="round"/>
<line x1="106.56" y1="37.56" x2="119.36" y2="44.26" stroke="#1e1e1e" stroke-width="3.0" stroke-linecap="round"/>
<line x1="106.56" y1="37.56" x2="119.36" y2="44.26" stroke="#7c7c7c" stroke-width="1.3" stroke-linecap="round"/>
<line x1="110.32" y1="35.32" x2="123.12" y2="42.02" stroke="#1e1e1e" stroke-width="3.0" stroke-linecap="round"/>
<line x1="110.32" y1="35.32" x2="123.12" y2="42.02" stroke="#7c7c7c" stroke-width="1.3" stroke-linecap="round"/>
<line x1="114.08" y1="33.08" x2="126.88" y2="39.78" stroke="#1e1e1e" stroke-width="3.0" stroke-linecap="round"/>
<line x1="114.08" y1="33.08" x2="126.88" y2="39.78" stroke="#7c7c7c" stroke-width="1.3" stroke-linecap="round"/>
<line x1="117.84" y1="30.84" x2="130.64" y2="37.54" stroke="#1e1e1e" stroke-width="3.0" stroke-linecap="round"/>
<line x1="117.84" y1="30.84" x2="130.64" y2="37.54" stroke="#7c7c7c" stroke-width="1.3" stroke-linecap="round"/>
<line x1="121.60" y1="28.60" x2="134.40" y2="35.30" stroke="#1e1e1e" stroke-width="3.0" stroke-linecap="round"/>
<line x1="121.60" y1="28.60" x2="134.40" y2="35.30" stroke="#7c7c7c" stroke-width="1.3" stroke-linecap="round"/>
<path d="M62.5,182.3 V86 Q62.6,83.2 65,81.7 L147.4,30.6 Q149.8,29.2 152.3,30.4 L163.5,36.9" fill="none" stroke="#262626" stroke-width="0.7" stroke-linejoin="round" stroke-linecap="round"/>
<path d="M75,190.8 V92.5 Q75.1,89.3 77.8,87.6 L163.5,37.7" fill="none" stroke="#262626" stroke-width="0.9" stroke-linejoin="round" stroke-linecap="round"/>
<path d="M62.5,182.3 Q62.6,183.8 64,184.6 L75,190.8" fill="none" stroke="#262626" stroke-width="0.65" stroke-linejoin="round" stroke-linecap="round"/>
<path d="M64,87.5 L101,108" fill="none" stroke="#4a4a4a" stroke-width="0.35" stroke-linejoin="round" stroke-linecap="round" stroke-dasharray="3.5 1.3"/>
<ellipse cx="77.9" cy="77.9" rx="1.9" ry="1.3" fill="none" stroke="#262626" stroke-width="0.5" transform="rotate(-30 77.9 77.9)"/>
<ellipse cx="113.7" cy="57.1" rx="3.4" ry="2.3" fill="none" stroke="#262626" stroke-width="0.55" transform="rotate(-30 113.7 57.1)"/>
<ellipse cx="150.2" cy="36.1" rx="1.9" ry="1.3" fill="none" stroke="#262626" stroke-width="0.5" transform="rotate(-30 150.2 36.1)"/>
<ellipse cx="68" cy="95" rx="1.5" ry="2" fill="none" stroke="#262626" stroke-width="0.5"/>
<ellipse cx="68" cy="136.9" rx="2.3" ry="3.3" fill="none" stroke="#262626" stroke-width="0.55"/>
<ellipse cx="68" cy="178.6" rx="1.5" ry="2" fill="none" stroke="#262626" stroke-width="0.5"/>
<path d="M163.5,37.3 L200.2,58.6" fill="none" stroke="#262626" stroke-width="0.75" stroke-linejoin="round" stroke-linecap="round"/>
<path d="M166,41 L195,58" fill="none" stroke="#4a4a4a" stroke-width="0.35" stroke-linejoin="round" stroke-linecap="round" stroke-dasharray="3.5 1.3"/>
<path d="M101.4,205 V107.5 Q101.6,101 107.5,97.8 L184.2,53.5" fill="none" stroke="#262626" stroke-width="0.85" stroke-linejoin="round" stroke-linecap="round"/>
<path d="M75,190.4 L101.6,205.2" fill="none" stroke="#262626" stroke-width="0.7" stroke-linejoin="round" stroke-linecap="round"/>
<path d="M77,189 L100,201.8" fill="none" stroke="#4a4a4a" stroke-width="0.3" stroke-linejoin="round" stroke-linecap="round" stroke-dasharray="3.5 1.3"/>
<ellipse cx="151.6" cy="78.2" rx="3.4" ry="2.3" fill="none" stroke="#262626" stroke-width="0.55" transform="rotate(-28 151.6 78.2)"/>
<ellipse cx="187.4" cy="57.9" rx="1.9" ry="1.3" fill="none" stroke="#262626" stroke-width="0.5" transform="rotate(-28 187.4 57.9)"/>
<ellipse cx="115.4" cy="99.6" rx="1.9" ry="1.3" fill="none" stroke="#262626" stroke-width="0.5" transform="rotate(-28 115.4 99.6)"/>
<path d="M116.6,204 V126 " fill="none" stroke="#262626" stroke-width="0.75" stroke-linejoin="round" stroke-linecap="round"/>
<path d="M101.6,205.2 L112.4,210.8" fill="none" stroke="#262626" stroke-width="0.65" stroke-linejoin="round" stroke-linecap="round"/>
<ellipse cx="105.7" cy="116.6" rx="1.5" ry="2" fill="none" stroke="#262626" stroke-width="0.5"/>
<ellipse cx="105.7" cy="158.3" rx="2.2" ry="3.3" fill="none" stroke="#262626" stroke-width="0.55"/>
<ellipse cx="105.2" cy="200.3" rx="1.4" ry="1.9" fill="none" stroke="#262626" stroke-width="0.5"/>
<circle cx="106.9" cy="172.5" r="2.5" fill="none" stroke="#262626" stroke-width="0.7"/>
<line x1="106.9" y1="165" x2="106.9" y2="180" stroke="#262626" stroke-width="0.7"/>
<path d="M124.9,105.8 L193.4,66.3" fill="none" stroke="#262626" stroke-width="0.85" stroke-linejoin="round" stroke-linecap="round"/>
<path d="M122.5,104.2 L192.5,63.8" fill="none" stroke="#262626" stroke-width="0.45" stroke-linejoin="round" stroke-linecap="round"/>
<path d="M128,107.5 L193,70" fill="none" stroke="#4a4a4a" stroke-width="0.4" stroke-linejoin="round" stroke-linecap="round"/>
<path d="M201.5,80.5 V108 L206.5,111 V115 L201.8,118 V124" fill="none" stroke="#262626" stroke-width="0.6" stroke-linejoin="round" stroke-linecap="round"/>
<path d="M130.8,205.5 L178,180.8" fill="none" stroke="#262626" stroke-width="0.75" stroke-linejoin="round" stroke-linecap="round"/>
<path d="M116.6,126 Q116.7,123.5 119,122.2 L129.5,116.5 Q130.9,115.6 130.9,113.8 V104.5 Q130.7,102.6 128.8,103.5 L124.5,105.8 Q123,104.3 121.5,102.8 L111.5,108.5 Q110.6,109 110.7,110.5 L111,120.3" fill="none" stroke="#262626" stroke-width="0.6" stroke-linejoin="round" stroke-linecap="round"/>
<path d="M114.2,110.6 L117.6,108.6 M114.6,115.6 L118,117.4" fill="none" stroke="#262626" stroke-width="0.5" stroke-linejoin="round" stroke-linecap="round"/>
<circle cx="115.6" cy="111.6" r="4.0" fill="#fff" stroke="#262626" stroke-width="0.5"/>
<circle cx="118.8" cy="113.3" r="4.3" fill="#fff" stroke="#262626" stroke-width="0.7"/>
<circle cx="118.8" cy="113.3" r="2.9" fill="#eee" stroke="#262626" stroke-width="1.3"/>
<circle cx="119.1" cy="113.5" r="1.3" fill="#fff" stroke="#262626" stroke-width="0.6"/>
<ellipse cx="125.7" cy="116.3" rx="1.3" ry="1.6" fill="none" stroke="#262626" stroke-width="0.45"/>
<path d="M193.2,66.6 L194,60 Q194.2,58.6 195.8,58.2 L199.5,58.4 M193.4,66.3 V76.5 Q193.6,79.8 196.5,80.3 L204.3,76.2 Q206.8,74.7 206.8,72 V67 L203.5,62" fill="none" stroke="#262626" stroke-width="0.6" stroke-linejoin="round" stroke-linecap="round"/>
<circle cx="202.4" cy="66.6" r="3.2" fill="#fff" stroke="#262626" stroke-width="0.7"/>
<circle cx="202.4" cy="66.6" r="1.9" fill="#ddd" stroke="#262626" stroke-width="1.2"/>
<circle cx="202.8" cy="67" r="0.8" fill="none" stroke="#262626" stroke-width="0.4"/>
<ellipse cx="198.2" cy="75.7" rx="1.5" ry="1.8" fill="none" stroke="#262626" stroke-width="0.45"/>
<circle cx="202.8" cy="79.3" r="1" fill="#333" stroke="#262626" stroke-width="0.5"/>
<path d="M116.6,201.8 L126.5,195 Q128.5,194 130.7,196 V203.5 Q130.6,205.2 129,206.3 L123.2,209.3" fill="none" stroke="#262626" stroke-width="0.6" stroke-linejoin="round" stroke-linecap="round"/>
<circle cx="120.7" cy="208.2" r="2.7" fill="#fff" stroke="#262626" stroke-width="0.8"/>
<circle cx="120.7" cy="208.2" r="1.5" fill="#ddd" stroke="#262626" stroke-width="1.1"/>
<circle cx="116.8" cy="208.6" r="1.6" fill="#fff" stroke="#262626" stroke-width="0.5"/>
<ellipse cx="126" cy="200.5" rx="1.2" ry="1.6" fill="none" stroke="#262626" stroke-width="0.45"/>
<path d="M112.4,210.8 L116,212.2" fill="none" stroke="#262626" stroke-width="0.6" stroke-linejoin="round" stroke-linecap="round"/>
<ellipse cx="141.8" cy="105.4" rx="7.4" ry="4.4" fill="#fff" stroke="#262626" stroke-width="1.7" transform="rotate(-27 141.8 105.4)"/>
<ellipse cx="141.7" cy="105.4" rx="3.5" ry="2.5" fill="none" stroke="#262626" stroke-width="0.7" transform="rotate(-27 141.7 105.4)"/>
<path d="M140.5,103.5 l2.3,-1.8 l-0.3,2.8 l1.6,0.3 l-3,3.2 l0.5,-2.8 z" fill="#222" stroke="#262626" stroke-width="0.4" stroke-linejoin="round" stroke-linecap="round"/>
<polygon points="134.3,114.3 148.6,106.8 148.6,109.6 134.3,117.2" fill="#1a1a1a"/>
<path d="M137,111 L147,105.8" fill="none" stroke="#262626" stroke-width="0.5" stroke-linejoin="round" stroke-linecap="round"/>
<ellipse cx="163.8" cy="138.7" rx="42.7" ry="27.97" fill="#fff" stroke="#262626" stroke-width="0.75" transform="rotate(-63.5 163.8 138.7)"/>
<polyline points="151.8,175.35 149.71,174.9 147.72,174.22 145.84,173.3 144.08,172.14 142.46,170.77 140.98,169.17 139.65,167.38 138.5,165.39 137.51,163.22 136.7,160.89 136.08,158.41 135.64,155.8 135.39,153.07 135.34,150.25 135.48,147.35 135.82,144.4 136.34,141.41 137.05,138.4 137.94,135.39 139.01,132.41 140.24,129.47 141.64,126.59 143.18,123.79 144.87,121.1 146.69,118.53 148.62,116.09 150.66,113.8 152.78,111.69 154.99,109.75 157.25,108.01 159.56,106.48 161.9,105.17 164.26,104.08 166.61,103.23 168.95,102.61 171.25,102.24 173.51,102.12 175.7,102.24 177.81,102.61 179.83,103.22" fill="none" stroke="#666" stroke-width="0.45" stroke-linejoin="round" stroke-dasharray="6 2 1.5 2"/>
<polyline points="152.83,172.91 150.88,172.5 149.03,171.86 147.28,171.0 145.64,169.93 144.13,168.65 142.75,167.16 141.52,165.49 140.44,163.64 139.53,161.62 138.77,159.45 138.19,157.15 137.78,154.72 137.56,152.18 137.51,149.55 137.64,146.86 137.95,144.11 138.44,141.32 139.1,138.52 139.93,135.72 140.92,132.94 142.07,130.21 143.37,127.53 144.81,124.93 146.38,122.42 148.07,120.02 149.87,117.75 151.76,115.63 153.74,113.66 155.79,111.86 157.9,110.24 160.05,108.81 162.23,107.59 164.42,106.58 166.61,105.78 168.79,105.21 170.93,104.87 173.03,104.75 175.07,104.87 177.04,105.21 178.92,105.78" fill="none" stroke="#777" stroke-width="0.45" stroke-linejoin="round" stroke-dasharray="5 2.2"/>
<circle cx="140.7" cy="137.6" r="2.2" fill="#fff" stroke="#262626" stroke-width="0.9"/>
<circle cx="141.0" cy="137.79999999999998" r="1.0" fill="#555" stroke="#262626" stroke-width="0.5"/>
<circle cx="141.5" cy="170.7" r="2.2" fill="#fff" stroke="#262626" stroke-width="0.9"/>
<circle cx="141.8" cy="170.89999999999998" r="1.0" fill="#555" stroke="#262626" stroke-width="0.5"/>
<ellipse cx="167.54" cy="140.61" rx="26.2" ry="17.16" fill="#fff" stroke="#262626" stroke-width="0.6" transform="rotate(-63.5 167.54 140.61)"/>
<polygon points="179.2,117.2 186.4,120.8 163.1,167.7 155.8,164.1" fill="#fff"/>
<line x1="179.2" y1="117.2" x2="186.4" y2="120.8" stroke="#262626" stroke-width="0.6"/>
<line x1="155.8" y1="164.1" x2="163.1" y2="167.7" stroke="#262626" stroke-width="0.6"/>
<ellipse cx="174.75" cy="144.3" rx="26.2" ry="17.16" fill="#fff" stroke="none" stroke-width="0" transform="rotate(-63.5 174.75 144.3)"/>
<polyline points="165.31,168.58 163.9,168.12 162.58,167.49 161.34,166.69 160.21,165.73 159.18,164.6 158.26,163.33 157.46,161.92 156.79,160.39 156.25,158.73 155.85,156.97 155.58,155.11 155.46,153.18 155.47,151.18 155.63,149.14 155.92,147.05 156.36,144.95 156.93,142.84 157.62,140.74 158.45,138.67 159.39,136.64 160.44,134.66 161.6,132.76 162.86,130.94 164.2,129.22 165.62,127.61 167.11,126.12 168.65,124.76 170.23,123.54 171.85,122.48 173.49,121.58 175.14,120.84 176.79,120.27 178.42,119.88 180.03,119.67 181.59,119.64 183.11,119.79 184.57,120.12 185.95,120.62 187.25,121.3 188.46,122.14" fill="none" stroke="#262626" stroke-width="1.0" stroke-linejoin="round"/>
<path d="M189.4,121.6 L189.70000000000002,117.6 M194.9,122.6 L194.9,118.6" fill="none" stroke="#262626" stroke-width="0.5" stroke-linejoin="round" stroke-linecap="round"/>
<ellipse cx="192.4" cy="116.6" rx="3.3" ry="2.3" fill="#222" stroke="#111" stroke-width="0.5" transform="rotate(25 192.4 116.6)"/>
<ellipse cx="189.2" cy="109.5" rx="1.6" ry="2" fill="#fff" stroke="#262626" stroke-width="0.7"/>
<path d="M188.5,111.5 L190.2,116" fill="none" stroke="#262626" stroke-width="0.5" stroke-linejoin="round" stroke-linecap="round"/>
<ellipse cx="184.85" cy="151.46" rx="30.7" ry="19.03" fill="#fff" stroke="#262626" stroke-width="0.55" transform="rotate(-61 184.85 151.46)"/>
<ellipse cx="186.1" cy="152.1" rx="30.4" ry="18.85" fill="#fff" stroke="#262626" stroke-width="0.7" transform="rotate(-61 186.1 152.1)"/>
<path d="M206.7,129.7 L210.4,131.6 Q211.2,137 210.6,143 L207.5,145.6" fill="#fff" stroke="#262626" stroke-width="0.6" stroke-linejoin="round" stroke-linecap="round"/>
<path d="M208.2,130.8 Q209,137 208.5,144.5" fill="none" stroke="#262626" stroke-width="0.4" stroke-linejoin="round" stroke-linecap="round"/>
<path d="M205,157 q2.5,1 1.5,4 q-1,3.5 -4.5,5" fill="none" stroke="#262626" stroke-width="0.55" stroke-linejoin="round" stroke-linecap="round"/>
<ellipse cx="186.37" cy="152.24" rx="28.5" ry="17.67" fill="none" stroke="#4a4a4a" stroke-width="0.35" transform="rotate(-61 186.37 152.24)"/>
<ellipse cx="186.81" cy="152.46" rx="26.2" ry="16.24" fill="none" stroke="#262626" stroke-width="1.4" transform="rotate(-61 186.81 152.46)"/>
<ellipse cx="187.08" cy="152.6" rx="24.6" ry="15.25" fill="none" stroke="#4a4a4a" stroke-width="0.4" transform="rotate(-61 187.08 152.6)"/>
<ellipse cx="187.7" cy="152.92" rx="22.0" ry="13.64" fill="none" stroke="#999" stroke-width="0.5" transform="rotate(-61 187.7 152.92)"/>
<ellipse cx="188.06" cy="153.1" rx="20.8" ry="12.9" fill="none" stroke="#666" stroke-width="0.45" transform="rotate(-61 188.06 153.1)"/>
<circle cx="185.6" cy="131.1" r="1.3" fill="#111" stroke="#111" stroke-width="0.3"/>
<circle cx="203.1" cy="130.8" r="1.3" fill="#111" stroke="#111" stroke-width="0.3"/>
<circle cx="170" cy="153" r="1.3" fill="#111" stroke="#111" stroke-width="0.3"/>
<circle cx="205" cy="152.4" r="1.3" fill="#111" stroke="#111" stroke-width="0.3"/>
<circle cx="171.6" cy="174.1" r="1.3" fill="#111" stroke="#111" stroke-width="0.3"/>
<circle cx="189.4" cy="173.3" r="1.3" fill="#111" stroke="#111" stroke-width="0.3"/>
<polygon points="180.6,124.4 185.2,121 188.9,123 184.4,126.8" fill="#151515"/>
<polyline points="199.98,161.63 199.56,162.26 199.12,162.89 198.67,163.5 198.21,164.1 197.74,164.68 197.26,165.25 196.77,165.8 196.27,166.34 195.77,166.87 195.25,167.37 194.73,167.86 194.2,168.33 193.66,168.78 193.12,169.22 192.57,169.63 192.01,170.03 191.46,170.4 190.9,170.75 190.33,171.09 189.77,171.4 189.2,171.69 188.63,171.96 188.06,172.2 187.49,172.42 186.93,172.62 186.36,172.8 185.8,172.96 185.23,173.09 184.67,173.19 184.12,173.28 183.57,173.34 183.02,173.37 182.48,173.39 181.95,173.37 181.42,173.34 180.9,173.28 180.39,173.2 179.88,173.09 179.39,172.96 178.9,172.81" fill="none" stroke="#262626" stroke-width="1.6" stroke-linejoin="round"/>
<polyline points="200.36,165.16 199.94,165.72 199.51,166.27 199.07,166.81 198.62,167.34 198.17,167.86 197.71,168.37 197.24,168.86 196.77,169.34 196.29,169.81 195.8,170.27 195.31,170.72 194.82,171.15 194.32,171.56 193.82,171.97 193.31,172.36 192.8,172.73 192.28,173.09 191.76,173.43 191.24,173.76 190.72,174.08 190.2,174.38 189.67,174.66 189.14,174.92 188.61,175.17 188.09,175.4 187.56,175.62 187.03,175.82 186.5,176.0 185.98,176.17 185.45,176.32 184.93,176.45 184.41,176.56 183.89,176.66 183.37,176.73 182.86,176.8 182.35,176.84 181.84,176.86 181.34,176.87 180.85,176.86 180.36,176.83" fill="none" stroke="#444" stroke-width="1.0" stroke-linejoin="round"/>
</g>
<g id="iso2">
<path d="M658.4,31 L660.6,29.6 Q662.4,28.8 664.2,29.8 L719.4,60 Q722.8,62 723,65.5 V136.5 Q722.9,139 721,140.3" fill="none" stroke="#262626" stroke-width="0.6" stroke-linejoin="round" stroke-linecap="round"/>
<path d="M657.8,31.8 L716.9,64.2" fill="none" stroke="#262626" stroke-width="0.45" stroke-linejoin="round" stroke-linecap="round"/>
<path d="M619.5,40 L640.8,26.7 Q642.9,25.3 645.2,26.5 L716.8,65 Q720.6,67.2 720.8,71 V138.5 Q720.7,141.3 718.4,142.7 L701.9,153.3" fill="none" stroke="#262626" stroke-width="0.65" stroke-linejoin="round" stroke-linecap="round"/>
<path d="M641.8,29.3 L715,69.2" fill="none" stroke="#262626" stroke-width="0.45" stroke-linejoin="round" stroke-linecap="round"/>
<path d="M718.4,72 V142" fill="none" stroke="#262626" stroke-width="0.45" stroke-linejoin="round" stroke-linecap="round"/>
<path d="M689.5,80.7 L717.5,65.5" fill="none" stroke="#4a4a4a" stroke-width="0.35" stroke-linejoin="round" stroke-linecap="round" stroke-dasharray="3.5 1.3"/>
<path d="M623,41.5 L643,29.5" fill="none" stroke="#4a4a4a" stroke-width="0.35" stroke-linejoin="round" stroke-linecap="round" stroke-dasharray="3.5 1.3"/>
<path d="M701.9,155.8 L718.5,145.8" fill="none" stroke="#4a4a4a" stroke-width="0.3" stroke-linejoin="round" stroke-linecap="round"/>
<line x1="630.40" y1="43.60" x2="642.70" y2="37.10" stroke="#1e1e1e" stroke-width="3.0" stroke-linecap="round"/>
<line x1="630.40" y1="43.60" x2="642.70" y2="37.10" stroke="#7c7c7c" stroke-width="1.3" stroke-linecap="round"/>
<line x1="634.11" y1="45.71" x2="646.41" y2="39.21" stroke="#1e1e1e" stroke-width="3.0" stroke-linecap="round"/>
<line x1="634.11" y1="45.71" x2="646.41" y2="39.21" stroke="#7c7c7c" stroke-width="1.3" stroke-linecap="round"/>
<line x1="637.82" y1="47.82" x2="650.12" y2="41.32" stroke="#1e1e1e" stroke-width="3.0" stroke-linecap="round"/>
<line x1="637.82" y1="47.82" x2="650.12" y2="41.32" stroke="#7c7c7c" stroke-width="1.3" stroke-linecap="round"/>
<line x1="641.53" y1="49.93" x2="653.83" y2="43.43" stroke="#1e1e1e" stroke-width="3.0" stroke-linecap="round"/>
<line x1="641.53" y1="49.93" x2="653.83" y2="43.43" stroke="#7c7c7c" stroke-width="1.3" stroke-linecap="round"/>
<line x1="645.24" y1="52.04" x2="657.54" y2="45.54" stroke="#1e1e1e" stroke-width="3.0" stroke-linecap="round"/>
<line x1="645.24" y1="52.04" x2="657.54" y2="45.54" stroke="#7c7c7c" stroke-width="1.3" stroke-linecap="round"/>
<line x1="648.95" y1="54.15" x2="661.25" y2="47.65" stroke="#1e1e1e" stroke-width="3.0" stroke-linecap="round"/>
<line x1="648.95" y1="54.15" x2="661.25" y2="47.65" stroke="#7c7c7c" stroke-width="1.3" stroke-linecap="round"/>
<line x1="652.66" y1="56.26" x2="664.96" y2="49.76" stroke="#1e1e1e" stroke-width="3.0" stroke-linecap="round"/>
<line x1="652.66" y1="56.26" x2="664.96" y2="49.76" stroke="#7c7c7c" stroke-width="1.3" stroke-linecap="round"/>
<line x1="656.37" y1="58.37" x2="668.67" y2="51.87" stroke="#1e1e1e" stroke-width="3.0" stroke-linecap="round"/>
<line x1="656.37" y1="58.37" x2="668.67" y2="51.87" stroke="#7c7c7c" stroke-width="1.3" stroke-linecap="round"/>
<line x1="660.08" y1="60.48" x2="672.38" y2="53.98" stroke="#1e1e1e" stroke-width="3.0" stroke-linecap="round"/>
<line x1="660.08" y1="60.48" x2="672.38" y2="53.98" stroke="#7c7c7c" stroke-width="1.3" stroke-linecap="round"/>
<line x1="663.79" y1="62.59" x2="676.09" y2="56.09" stroke="#1e1e1e" stroke-width="3.0" stroke-linecap="round"/>
<line x1="663.79" y1="62.59" x2="676.09" y2="56.09" stroke="#7c7c7c" stroke-width="1.3" stroke-linecap="round"/>
<line x1="667.50" y1="64.70" x2="679.80" y2="58.20" stroke="#1e1e1e" stroke-width="3.0" stroke-linecap="round"/>
<line x1="667.50" y1="64.70" x2="679.80" y2="58.20" stroke="#7c7c7c" stroke-width="1.3" stroke-linecap="round"/>
<line x1="671.21" y1="66.81" x2="683.51" y2="60.31" stroke="#1e1e1e" stroke-width="3.0" stroke-linecap="round"/>
<line x1="671.21" y1="66.81" x2="683.51" y2="60.31" stroke="#7c7c7c" stroke-width="1.3" stroke-linecap="round"/>
<line x1="674.92" y1="68.92" x2="687.22" y2="62.42" stroke="#1e1e1e" stroke-width="3.0" stroke-linecap="round"/>
<line x1="674.92" y1="68.92" x2="687.22" y2="62.42" stroke="#7c7c7c" stroke-width="1.3" stroke-linecap="round"/>
<line x1="678.63" y1="71.03" x2="690.93" y2="64.53" stroke="#1e1e1e" stroke-width="3.0" stroke-linecap="round"/>
<line x1="678.63" y1="71.03" x2="690.93" y2="64.53" stroke="#7c7c7c" stroke-width="1.3" stroke-linecap="round"/>
<line x1="682.34" y1="73.14" x2="694.64" y2="66.64" stroke="#1e1e1e" stroke-width="3.0" stroke-linecap="round"/>
<line x1="682.34" y1="73.14" x2="694.64" y2="66.64" stroke="#7c7c7c" stroke-width="1.3" stroke-linecap="round"/>
<line x1="686.05" y1="75.25" x2="698.35" y2="68.75" stroke="#1e1e1e" stroke-width="3.0" stroke-linecap="round"/>
<line x1="686.05" y1="75.25" x2="698.35" y2="68.75" stroke="#7c7c7c" stroke-width="1.3" stroke-linecap="round"/>
<path d="M564,66 L610.4,39.4 Q612.6,38 615,39.2 L696.6,84 Q701.3,86.8 701.6,91.5 V186.5 Q701.5,189.5 699.5,191 L689.4,197.4" fill="none" stroke="#262626" stroke-width="0.7" stroke-linejoin="round" stroke-linecap="round"/>
<path d="M567,67.5 L612,41.8" fill="none" stroke="#4a4a4a" stroke-width="0.35" stroke-linejoin="round" stroke-linecap="round" stroke-dasharray="3.5 1.3"/>
<path d="M599.9,45.6 L682.4,91.9 Q688.5,95.4 688.9,101 V198.3" fill="none" stroke="#262626" stroke-width="0.9" stroke-linejoin="round" stroke-linecap="round"/>
<path d="M576.6,59.7 L654.4,105.6 Q661.5,109.6 662,115 V213.2" fill="none" stroke="#262626" stroke-width="0.9" stroke-linejoin="round" stroke-linecap="round"/>
<path d="M688.9,198.3 L662.5,213.3 M662,213.2 L643.5,222" fill="none" stroke="#262626" stroke-width="0.7" stroke-linejoin="round" stroke-linecap="round"/>
<path d="M688,196.5 L664,210.3" fill="none" stroke="#4a4a4a" stroke-width="0.3" stroke-linejoin="round" stroke-linecap="round" stroke-dasharray="3.5 1.3"/>
<path d="M661,110 L700,89" fill="none" stroke="#4a4a4a" stroke-width="0.35" stroke-linejoin="round" stroke-linecap="round" stroke-dasharray="3.5 1.3"/>
<path d="M664,118 L689,104.5" fill="none" stroke="#4a4a4a" stroke-width="0.3" stroke-linejoin="round" stroke-linecap="round" stroke-dasharray="3.5 1.3"/>
<ellipse cx="613.3" cy="44.6" rx="1.9" ry="1.3" fill="none" stroke="#262626" stroke-width="0.5" transform="rotate(28 613.3 44.6)"/>
<ellipse cx="576.3" cy="66.1" rx="1.9" ry="1.3" fill="none" stroke="#262626" stroke-width="0.5" transform="rotate(28 576.3 66.1)"/>
<ellipse cx="649.7" cy="65.1" rx="3.4" ry="2.3" fill="none" stroke="#262626" stroke-width="0.55" transform="rotate(28 649.7 65.1)"/>
<ellipse cx="612.4" cy="87.1" rx="3.4" ry="2.3" fill="none" stroke="#262626" stroke-width="0.55" transform="rotate(28 612.4 87.1)"/>
<ellipse cx="686.1" cy="86.3" rx="1.9" ry="1.3" fill="none" stroke="#262626" stroke-width="0.5" transform="rotate(28 686.1 86.3)"/>
<ellipse cx="648.3" cy="107.8" rx="1.9" ry="1.3" fill="none" stroke="#262626" stroke-width="0.5" transform="rotate(28 648.3 107.8)"/>
<ellipse cx="695.8" cy="103.3" rx="1.4" ry="2" fill="none" stroke="#262626" stroke-width="0.5"/>
<ellipse cx="658.6" cy="124.6" rx="1.4" ry="2" fill="none" stroke="#262626" stroke-width="0.5"/>
<ellipse cx="696.1" cy="187.4" rx="1.4" ry="2" fill="none" stroke="#262626" stroke-width="0.5"/>
<ellipse cx="658.6" cy="208.2" rx="1.4" ry="2" fill="none" stroke="#262626" stroke-width="0.5"/>
<path d="M556.7,80 V150" fill="none" stroke="#262626" stroke-width="0.7" stroke-linejoin="round" stroke-linecap="round"/>
<path d="M570.8,77.4 L634.7,113.2" fill="none" stroke="#262626" stroke-width="0.85" stroke-linejoin="round" stroke-linecap="round"/>
<path d="M572.5,75.5 L636.5,111.3" fill="none" stroke="#262626" stroke-width="0.45" stroke-linejoin="round" stroke-linecap="round"/>
<path d="M570,80.5 L633.6,116.2" fill="none" stroke="#4a4a4a" stroke-width="0.4" stroke-linejoin="round" stroke-linecap="round"/>
<path d="M642.4,132 V214.5" fill="none" stroke="#262626" stroke-width="0.7" stroke-linejoin="round" stroke-linecap="round"/>
<path d="M583.3,187.4 L634.9,215.7" fill="none" stroke="#262626" stroke-width="0.75" stroke-linejoin="round" stroke-linecap="round"/>
<path d="M556.7,80 Q556.8,77.3 558.2,76.3 M557.6,80.3 L559.6,84.6 L566.8,89 Q569.8,90.2 570,87 V75.2 L565.2,71.4" fill="none" stroke="#262626" stroke-width="0.6" stroke-linejoin="round" stroke-linecap="round"/>
<circle cx="561.9" cy="73.4" r="3.2" fill="#fff" stroke="#262626" stroke-width="0.7"/>
<circle cx="561.9" cy="73.4" r="1.9" fill="#ddd" stroke="#262626" stroke-width="1.2"/>
<circle cx="561.6" cy="73.8" r="0.7" fill="none" stroke="#262626" stroke-width="0.4"/>
<path d="M558.8,70.6 L563.2,67.7 Q565,67 566.5,68.3 L569.6,70.6" fill="none" stroke="#262626" stroke-width="0.5" stroke-linejoin="round" stroke-linecap="round"/>
<ellipse cx="565.7" cy="84" rx="1.4" ry="1.7" fill="none" stroke="#262626" stroke-width="0.45"/>
<path d="M633.75,112.8 V124.8 Q634,127.2 637.5,129.4 L643.75,131.9 H647.6 Q650.4,131.6 651.9,128.1 V117.5 Q651.6,115.2 648.75,113.75 L644.2,111.6 Q642.3,110.9 640.6,112 L638.2,113.6 Q636.6,112.4 635.2,112 Z" fill="#fff" stroke="#262626" stroke-width="0.6" stroke-linejoin="round" stroke-linecap="round"/>
<circle cx="643.9" cy="121.8" r="4.7" fill="#fff" stroke="#262626" stroke-width="0.6"/>
<circle cx="643.9" cy="121.8" r="2.9" fill="#eee" stroke="#262626" stroke-width="1.3"/>
<circle cx="643.6" cy="122.2" r="1.3" fill="none" stroke="#262626" stroke-width="0.5"/>
<ellipse cx="638.1" cy="125" rx="1.3" ry="1.6" fill="none" stroke="#262626" stroke-width="0.45"/>
<path d="M642.6,133.3 L651.5,137 M646.8,132.8 V138 M650.8,134 V139.8" fill="none" stroke="#262626" stroke-width="0.9" stroke-linejoin="round" stroke-linecap="round"/>
<circle cx="651" cy="137.6" r="1.2" fill="#222" stroke="#262626" stroke-width="0.5"/>
<polygon points="642.8,135.6 646.6,137.2 646.6,138.6 642.8,137" fill="#222"/>
<path d="M642.4,137 V160.5 Q642.6,163.6 645.5,165.3 L647.5,166.6 Q649.5,167.4 651.5,166 L655.3,163.2 Q656.9,161.7 657,159.5 V134.5 Q656.8,132.3 654.5,131.8 L652.6,131.5" fill="none" stroke="#262626" stroke-width="0.6" stroke-linejoin="round" stroke-linecap="round"/>
<path d="M644.2,139 V159.5 Q644.4,162 646.5,163.2" fill="none" stroke="#4a4a4a" stroke-width="0.35" stroke-linejoin="round" stroke-linecap="round"/>
<rect x="643.9" y="142" width="4.7" height="13" rx="2.1" fill="#fff" stroke="#1b1b1b" stroke-width="1.1" transform="skewY(28) translate(0,-343.6)"/>
<path d="M645.8,146.5 V153.5" fill="none" stroke="#262626" stroke-width="1.3" stroke-linejoin="round" stroke-linecap="round"/>
<polygon points="648.5,168.2 653.5,165.4 653.5,166.8 648.5,169.6" fill="#1a1a1a"/>
<path d="M647.4,168 V190" fill="none" stroke="#262626" stroke-width="0.55" stroke-linejoin="round" stroke-linecap="round"/>
<path d="M642.4,190.5 L646,192.3 V199" fill="none" stroke="#262626" stroke-width="0.5" stroke-linejoin="round" stroke-linecap="round"/>
<polygon points="649.5,190.8 656,187.4 656,189.2 649.5,192.6" fill="#1a1a1a"/>
<ellipse cx="653.6" cy="197.4" rx="4.8" ry="5.4" fill="#fff" stroke="#262626" stroke-width="0.7"/>
<ellipse cx="653.3" cy="197.6" rx="3.1" ry="3.7" fill="#999" stroke="#262626" stroke-width="0.9"/>
<path d="M647,194.5 q-1.5,3 1,6" fill="none" stroke="#262626" stroke-width="0.5" stroke-linejoin="round" stroke-linecap="round"/>
<path d="M634.2,215.5 V206.5 Q634.4,203.6 637,203.3 L641.5,204 L645.8,206.5" fill="none" stroke="#262626" stroke-width="0.6" stroke-linejoin="round" stroke-linecap="round"/>
<ellipse cx="637.4" cy="208.2" rx="1.2" ry="1.6" fill="none" stroke="#262626" stroke-width="0.45"/>
<circle cx="643.2" cy="217.4" r="2.7" fill="#fff" stroke="#262626" stroke-width="0.8"/>
<circle cx="643.2" cy="217.4" r="1.5" fill="#ddd" stroke="#262626" stroke-width="1.1"/>
<circle cx="647.5" cy="216.5" r="1.5" fill="#fff" stroke="#262626" stroke-width="0.5"/>
<path d="M634.9,215.7 L640.5,218.8 M646,213.5 V219.5 M649.5,211.5 V218" fill="none" stroke="#262626" stroke-width="0.55" stroke-linejoin="round" stroke-linecap="round"/>
<polygon points="663.2,151.3 685.6,138.9 685.6,154.9 663.2,167.4" fill="#fff" stroke="#1b1b1b" stroke-width="1.0"/>
<polygon points="664.6,152.8 684.2,141.9 684.2,146.7 664.6,157.6" fill="none" stroke="#1b1b1b" stroke-width="0.5"/>
<polygon points="664.6,159.2 684.2,148.3 684.2,153.6 664.6,164.6" fill="none" stroke="#1b1b1b" stroke-width="0.5"/>
<text x="0" y="0" fill="#fff" stroke="#1b1b1b" stroke-width="0.55" font-size="5.6" font-weight="bold" transform="matrix(0.9,-0.5,0,1,668.4,156)" textLength="14.8" lengthAdjust="spacingAndGlyphs">VEO</text>
<text x="0" y="0" fill="#fff" stroke="#1b1b1b" stroke-width="0.55" font-size="5.6" font-weight="bold" transform="matrix(0.9,-0.5,0,1,665.6,163.4)" textLength="18.4" lengthAdjust="spacingAndGlyphs">S440L</text>
<ellipse cx="581.2" cy="89.2" rx="7.4" ry="4.4" fill="#fff" stroke="#262626" stroke-width="1.7" transform="rotate(29 581.2 89.2)"/>
<ellipse cx="581" cy="88.9" rx="3.5" ry="2.5" fill="none" stroke="#262626" stroke-width="0.7" transform="rotate(28 581 88.9)"/>
<path d="M580,86.5 l2.5,-1 l-1,2.6 l1.6,0.8 l-3.6,2.3 l1.2,-2.5 z" fill="#222" stroke="#262626" stroke-width="0.4" stroke-linejoin="round" stroke-linecap="round"/>
<polygon points="574.3,94.6 589.3,102.8 589.3,100 574.3,91.8" fill="#1a1a1a"/>
<path d="M576.5,91 L586.5,96.4" fill="none" stroke="#262626" stroke-width="0.5" stroke-linejoin="round" stroke-linecap="round"/>
<ellipse cx="599.2" cy="146.5" rx="43.1" ry="28.23" fill="#fff" stroke="#262626" stroke-width="0.75" transform="rotate(58 599.2 146.5)"/>
<polyline points="580.1,112.26 582.11,111.49 584.24,110.97 586.48,110.69 588.79,110.65 591.18,110.87 593.62,111.33 596.1,112.03 598.6,112.97 601.1,114.14 603.58,115.54 606.03,117.15 608.44,118.96 610.78,120.96 613.03,123.14 615.19,125.48 617.24,127.96 619.17,130.58 620.95,133.3 622.58,136.12 624.05,139.0 625.35,141.94 626.47,144.92 627.4,147.9 628.13,150.88 628.66,153.82 628.99,156.72 629.11,159.55 629.02,162.29 628.73,164.92 628.23,167.43 627.53,169.79 626.64,172.0 625.55,174.03 624.29,175.87 622.84,177.51 621.24,178.94 619.48,180.15 617.58,181.13 615.55,181.87 613.41,182.37" fill="none" stroke="#666" stroke-width="0.45" stroke-linejoin="round" stroke-dasharray="6 2 1.5 2"/>
<polyline points="581.22,114.72 583.09,114.01 585.08,113.52 587.16,113.26 589.32,113.23 591.54,113.43 593.81,113.85 596.12,114.51 598.45,115.38 600.77,116.48 603.09,117.78 605.37,119.27 607.61,120.96 609.79,122.82 611.89,124.85 613.9,127.03 615.81,129.35 617.6,131.78 619.27,134.32 620.79,136.94 622.16,139.63 623.36,142.37 624.4,145.13 625.27,147.91 625.95,150.69 626.45,153.43 626.75,156.13 626.86,158.76 626.78,161.31 626.51,163.77 626.05,166.1 625.4,168.3 624.56,170.36 623.55,172.25 622.37,173.96 621.03,175.49 619.53,176.83 617.89,177.95 616.12,178.86 614.23,179.55 612.24,180.02" fill="none" stroke="#777" stroke-width="0.45" stroke-linejoin="round" stroke-dasharray="5 2.2"/>
<circle cx="572.5" cy="118.6" r="2.2" fill="#fff" stroke="#262626" stroke-width="0.9"/>
<circle cx="572.2" cy="118.8" r="1.0" fill="#555" stroke="#262626" stroke-width="0.5"/>
<circle cx="622.4" cy="146.4" r="2.2" fill="#fff" stroke="#262626" stroke-width="0.9"/>
<circle cx="622.1" cy="146.6" r="1.0" fill="#555" stroke="#262626" stroke-width="0.5"/>
<circle cx="621.6" cy="179.4" r="2.2" fill="#fff" stroke="#262626" stroke-width="0.9"/>
<circle cx="621.3000000000001" cy="179.6" r="1.0" fill="#555" stroke="#262626" stroke-width="0.5"/>
<ellipse cx="595.56" cy="148.59" rx="26.4" ry="17.29" fill="#fff" stroke="#262626" stroke-width="0.6" transform="rotate(58 595.56 148.59)"/>
<polygon points="609.5,171.0 602.5,175.0 574.5,130.2 581.6,126.2" fill="#fff"/>
<line x1="609.5" y1="171.0" x2="602.5" y2="175.0" stroke="#262626" stroke-width="0.6"/>
<line x1="581.6" y1="126.2" x2="574.5" y2="130.2" stroke="#262626" stroke-width="0.6"/>
<ellipse cx="588.54" cy="152.63" rx="26.4" ry="17.29" fill="#fff" stroke="none" stroke-width="0" transform="rotate(58 588.54 152.63)"/>
<polyline points="572.64,131.73 573.77,130.77 575.01,129.96 576.35,129.32 577.78,128.85 579.29,128.56 580.86,128.44 582.49,128.49 584.17,128.73 585.87,129.14 587.6,129.72 589.33,130.46 591.06,131.37 592.77,132.44 594.44,133.65 596.08,135.0 597.66,136.48 599.17,138.08 600.61,139.79 601.95,141.58 603.2,143.46 604.34,145.41 605.37,147.41 606.27,149.44 607.04,151.5 607.68,153.57 608.18,155.63 608.53,157.67 608.74,159.67 608.8,161.63 608.71,163.51 608.48,165.32 608.1,167.03 607.58,168.64 606.91,170.13 606.11,171.49 605.19,172.71 604.14,173.79 602.98,174.71 601.71,175.48 600.35,176.07" fill="none" stroke="#262626" stroke-width="1.0" stroke-linejoin="round"/>
<ellipse cx="578.51" cy="159.2" rx="30.6" ry="19.58" fill="#fff" stroke="#262626" stroke-width="0.55" transform="rotate(64 578.51 159.2)"/>
<ellipse cx="577.3" cy="159.9" rx="30.3" ry="19.39" fill="#fff" stroke="#262626" stroke-width="0.7" transform="rotate(64 577.3 159.9)"/>
<ellipse cx="577.04" cy="160.05" rx="28.4" ry="18.18" fill="none" stroke="#4a4a4a" stroke-width="0.35" transform="rotate(64 577.04 160.05)"/>
<ellipse cx="576.61" cy="160.3" rx="26.2" ry="16.77" fill="none" stroke="#262626" stroke-width="1.4" transform="rotate(64 576.61 160.3)"/>
<ellipse cx="576.35" cy="160.45" rx="24.6" ry="15.74" fill="none" stroke="#4a4a4a" stroke-width="0.4" transform="rotate(64 576.35 160.45)"/>
<ellipse cx="575.83" cy="160.75" rx="22.0" ry="14.08" fill="none" stroke="#999" stroke-width="0.5" transform="rotate(64 575.83 160.75)"/>
<ellipse cx="575.48" cy="160.95" rx="20.8" ry="13.31" fill="none" stroke="#666" stroke-width="0.45" transform="rotate(64 575.48 160.95)"/>
<circle cx="558.6" cy="141.3" r="1.3" fill="#111" stroke="#111" stroke-width="0.3"/>
<circle cx="574.9" cy="137.5" r="1.3" fill="#111" stroke="#111" stroke-width="0.3"/>
<circle cx="591.8" cy="157.5" r="1.3" fill="#111" stroke="#111" stroke-width="0.3"/>
<circle cx="559.9" cy="164.4" r="1.3" fill="#111" stroke="#111" stroke-width="0.3"/>
<circle cx="593.6" cy="181.3" r="1.3" fill="#111" stroke="#111" stroke-width="0.3"/>
<polygon points="578,133.2 581,131.6 585.8,133.8 585,136 581.5,135.8" fill="#151515"/>
<path d="M586.3,136.5 V132.5 M592.3,137.5 V133.5" fill="none" stroke="#262626" stroke-width="0.5" stroke-linejoin="round" stroke-linecap="round"/>
<ellipse cx="589.3" cy="133.6" rx="3.1" ry="2.1" fill="#fff" stroke="#262626" stroke-width="0.6" transform="rotate(20 589.3 133.6)"/>
<path d="M586.3,136.5 Q589,139 592.3,137.5" fill="none" stroke="#262626" stroke-width="0.5" stroke-linejoin="round" stroke-linecap="round"/>
<path d="M594,141 L608,161 M597,140.5 L603,150 l3,-1.5" fill="none" stroke="#262626" stroke-width="0.45" stroke-linejoin="round" stroke-linecap="round"/>
<path d="M601.8,171.5 L606,169.3 L608.8,170.8 V177.8 L604.6,180 L601.8,178.5 Z M601.8,171.5 L604.6,173 V180 M604.6,173 L608.8,170.8" fill="#fff" stroke="#262626" stroke-width="0.55" stroke-linejoin="round" stroke-linecap="round"/>
<path d="M603,163 l4,-2.5 l2,6" fill="none" stroke="#4a4a4a" stroke-width="0.4" stroke-linejoin="round" stroke-linecap="round"/>
<path d="M556.2,143.5 q-2.2,6 -1.2,13 M557.5,166 q-3,2 -0.5,5.5 q2,3 5,4" fill="none" stroke="#262626" stroke-width="0.55" stroke-linejoin="round" stroke-linecap="round"/>
<polyline points="590.71,153.14 591.06,153.79 591.39,154.45 591.71,155.11 592.02,155.78 592.31,156.45 592.59,157.13 592.85,157.8 593.09,158.48 593.32,159.16 593.54,159.84 593.73,160.52 593.91,161.2 594.08,161.88 594.23,162.55 594.36,163.23 594.47,163.9 594.57,164.56 594.65,165.22 594.71,165.88 594.76,166.53 594.78,167.18 594.79,167.81 594.79,168.44 594.76,169.07 594.72,169.68 594.66,170.28 594.58,170.88 594.49,171.46 594.38,172.03 594.25,172.6 594.11,173.14 593.94,173.68 593.77,174.21 593.57,174.72 593.36,175.21 593.13,175.69 592.89,176.16 592.63,176.61 592.36,177.05 592.07,177.47" fill="none" stroke="#262626" stroke-width="1.6" stroke-linejoin="round"/>
<polyline points="558.4,165.05 558.09,164.39 557.79,163.72 557.51,163.05 557.24,162.37 556.98,161.7 556.74,161.02 556.51,160.34 556.29,159.66 556.09,158.99 555.9,158.31 555.72,157.63 555.56,156.95 555.42,156.28 555.29,155.61 555.17,154.94 555.07,154.27 554.98,153.61 554.9,152.95 554.85,152.29 554.8,151.65 554.77,151.0 554.76,150.36 554.76,149.73 554.78,149.11 554.81,148.49 554.85,147.88 554.91,147.28 554.99,146.68 555.08,146.1 555.18,145.52 555.3,144.96 555.44,144.4 555.58,143.85 555.75,143.32 555.92,142.8 556.11,142.28 556.32,141.78 556.54,141.29 556.77,140.82 557.02,140.35" fill="none" stroke="#444" stroke-width="1.0" stroke-linejoin="round"/>
</g>
<g id="ext">
<line x1="113" y1="435" x2="113" y2="473" stroke="#8c8c8c" stroke-width="0.5"/>
<line x1="165.75" y1="435" x2="165.75" y2="473" stroke="#8c8c8c" stroke-width="0.5"/>
<line x1="168" y1="435" x2="168" y2="468" stroke="#aaa" stroke-width="0.5"/>
<line x1="350" y1="435" x2="350" y2="473" stroke="#8c8c8c" stroke-width="0.5"/>
<line x1="452" y1="435" x2="452" y2="473" stroke="#8c8c8c" stroke-width="0.5"/>
<line x1="401.25" y1="435" x2="401.25" y2="486.8" stroke="#8c8c8c" stroke-width="0.5"/>
<line x1="349.5" y1="200" x2="349.5" y2="228" stroke="#8c8c8c" stroke-width="0.5"/>
<line x1="452" y1="200" x2="452" y2="228" stroke="#8c8c8c" stroke-width="0.5"/>
<line x1="400.75" y1="200" x2="400.75" y2="240" stroke="#8c8c8c" stroke-width="0.5"/>
<line x1="583.9" y1="435" x2="583.9" y2="460.5" stroke="#8c8c8c" stroke-width="0.5"/>
<line x1="636.3" y1="435" x2="636.3" y2="460.5" stroke="#8c8c8c" stroke-width="0.5"/>
<line x1="507.5" y1="318" x2="567" y2="318" stroke="#8c8c8c" stroke-width="0.5"/>
<line x1="507.5" y1="420" x2="568" y2="420" stroke="#8c8c8c" stroke-width="0.5"/>
<line x1="300" y1="95" x2="334" y2="95" stroke="#8c8c8c" stroke-width="0.5"/>
<line x1="300" y1="148" x2="334" y2="148" stroke="#8c8c8c" stroke-width="0.5"/>
<line x1="310" y1="317.5" x2="335" y2="317.5" stroke="#8c8c8c" stroke-width="0.5"/>
<line x1="310" y1="420" x2="335" y2="420" stroke="#8c8c8c" stroke-width="0.5"/>
</g>
</svg></body></html>
